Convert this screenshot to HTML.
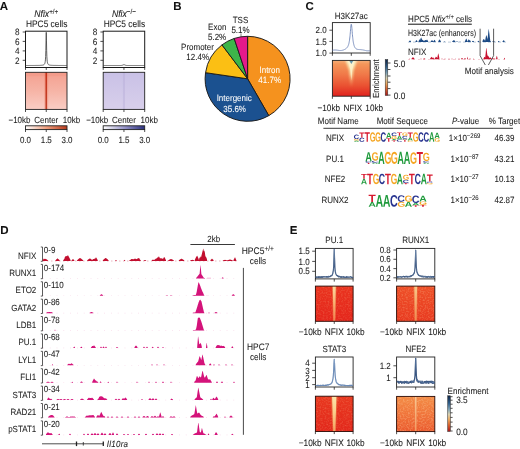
<!DOCTYPE html>
<html><head><meta charset="utf-8"><style>
html,body{margin:0;padding:0;background:#fff;}
svg{display:block;font-family:"Liberation Sans",sans-serif;filter:blur(0.35px);}
text{stroke:currentColor;stroke-width:0.06px;text-rendering:geometricPrecision;}
</style></head><body>
<svg width="520" height="449" viewBox="0 0 520 449">
<defs><linearGradient id="hA1" x1="0" y1="0" x2="0" y2="1"><stop offset="0" stop-color="#f4a090"/><stop offset="0.5" stop-color="#f6b4a6"/><stop offset="1" stop-color="#f9cdc4"/></linearGradient>
<linearGradient id="hA1c" x1="0" y1="0" x2="0" y2="1"><stop offset="0" stop-color="#c8321a"/><stop offset="1" stop-color="#c24028"/></linearGradient>
<linearGradient id="cbA1" x1="0" y1="0" x2="1" y2="0"><stop offset="0" stop-color="#ffffff"/><stop offset="0.5" stop-color="#f0a080"/><stop offset="1" stop-color="#b83a1c"/></linearGradient>
<linearGradient id="hA2" x1="0" y1="0" x2="0" y2="1"><stop offset="0" stop-color="#c9c1e6"/><stop offset="1" stop-color="#d8cfeb"/></linearGradient>
<linearGradient id="cbA2" x1="0" y1="0" x2="1" y2="0"><stop offset="0" stop-color="#ffffff"/><stop offset="0.5" stop-color="#9a98cc"/><stop offset="1" stop-color="#2a2f7e"/></linearGradient><linearGradient id="hC" x1="0" y1="0" x2="0" y2="1"><stop offset="0" stop-color="#f6b07a"/><stop offset="0.1" stop-color="#f4965a"/><stop offset="0.4" stop-color="#f07848"/><stop offset="0.7" stop-color="#ea5232"/><stop offset="1" stop-color="#e0221e"/></linearGradient>
<linearGradient id="hCv" x1="0" y1="0" x2="0" y2="1"><stop offset="0" stop-color="#fcf2c6"/><stop offset="0.5" stop-color="#fae2a6" stop-opacity="0.9"/><stop offset="1" stop-color="#f6c080" stop-opacity="0"/></linearGradient>
<filter id="blur1" x="-50%" y="-50%" width="200%" height="200%"><feGaussianBlur stdDeviation="1.2"/></filter>
<filter id="blur05" x="-50%" y="-50%" width="200%" height="200%"><feGaussianBlur stdDeviation="0.6"/></filter>
<filter id="blur03" x="-50%" y="-50%" width="200%" height="200%"><feGaussianBlur stdDeviation="0.35"/></filter>
<linearGradient id="cbC" x1="0" y1="0" x2="0" y2="1"><stop offset="0" stop-color="#0f2444"/><stop offset="0.2" stop-color="#2c5a86"/><stop offset="0.38" stop-color="#7fa2b4"/><stop offset="0.52" stop-color="#d8cfae"/><stop offset="0.66" stop-color="#e8a860"/><stop offset="0.82" stop-color="#d8602c"/><stop offset="1" stop-color="#a8161a"/></linearGradient><clipPath id="clipC"><rect x="332.4" y="60.4" width="37.80" height="35.80"/></clipPath><path id="gA" d="M1133 0 1008 360H471L346 0H51L565 1409H913L1425 0ZM739 1192 733 1170Q723 1134 709.0 1088.0Q695 1042 537 582H942L803 987L760 1123Z"/><path id="gC" d="M795 212Q1062 212 1166 480L1423 383Q1340 179 1179.5 79.5Q1019 -20 795 -20Q455 -20 269.5 172.5Q84 365 84 711Q84 1058 263.0 1244.0Q442 1430 782 1430Q1030 1430 1186.0 1330.5Q1342 1231 1405 1038L1145 967Q1112 1073 1015.5 1135.5Q919 1198 788 1198Q588 1198 484.5 1074.0Q381 950 381 711Q381 468 487.5 340.0Q594 212 795 212Z"/><path id="gG" d="M806 211Q921 211 1029.0 244.5Q1137 278 1196 330V525H852V743H1466V225Q1354 110 1174.5 45.0Q995 -20 798 -20Q454 -20 269.0 170.5Q84 361 84 711Q84 1059 270.0 1244.5Q456 1430 805 1430Q1301 1430 1436 1063L1164 981Q1120 1088 1026.0 1143.0Q932 1198 805 1198Q597 1198 489.0 1072.0Q381 946 381 711Q381 472 492.5 341.5Q604 211 806 211Z"/><path id="gT" d="M773 1181V0H478V1181H23V1409H1229V1181Z"/><filter id="noise" x="0" y="0" width="100%" height="100%"><feTurbulence type="fractalNoise" baseFrequency="0.6 0.7" numOctaves="2" seed="7" result="t"/><feColorMatrix in="t" type="matrix" values="0 0 0 0 0.98  0 0 0 0 0.62  0 0 0 0 0.35  0 0 0 2.2 -0.95" result="n"/><feComposite in="n" in2="SourceGraphic" operator="in"/></filter>
<linearGradient id="ePU" x1="0" y1="0" x2="0" y2="1"><stop offset="0" stop-color="#e9341f"/><stop offset="1" stop-color="#e4261c"/></linearGradient>
<linearGradient id="eRX" x1="0" y1="0" x2="0" y2="1"><stop offset="0" stop-color="#ee5028"/><stop offset="1" stop-color="#e83a20"/></linearGradient>
<linearGradient id="eST" x1="0" y1="0" x2="0" y2="1"><stop offset="0" stop-color="#e8381f"/><stop offset="1" stop-color="#e2281c"/></linearGradient>
<linearGradient id="eNF" x1="0" y1="0" x2="0" y2="1"><stop offset="0" stop-color="#f38c46"/><stop offset="0.5" stop-color="#f0753b"/><stop offset="1" stop-color="#ea5a2e"/></linearGradient>
<linearGradient id="sPU" x1="0" y1="0" x2="0" y2="1"><stop offset="0" stop-color="#fbd9a0"/><stop offset="0.5" stop-color="#f8b070"/><stop offset="1" stop-color="#f08050"/></linearGradient>
<linearGradient id="sRX" x1="0" y1="0" x2="0" y2="1"><stop offset="0" stop-color="#f9c888"/><stop offset="1" stop-color="#f08a50"/></linearGradient>
<linearGradient id="sST" x1="0" y1="0" x2="0" y2="1"><stop offset="0" stop-color="#fce6aa"/><stop offset="0.5" stop-color="#f9cc88"/><stop offset="1" stop-color="#f3a060"/></linearGradient>
<linearGradient id="sNF" x1="0" y1="0" x2="0" y2="1"><stop offset="0" stop-color="#f8c890"/><stop offset="1" stop-color="#f39a62"/></linearGradient>
<linearGradient id="cbE" x1="0" y1="0" x2="0" y2="1"><stop offset="0" stop-color="#0f2444"/><stop offset="0.2" stop-color="#2c5a86"/><stop offset="0.38" stop-color="#7fa2b4"/><stop offset="0.52" stop-color="#d8cfae"/><stop offset="0.66" stop-color="#e8a860"/><stop offset="0.82" stop-color="#d8602c"/><stop offset="1" stop-color="#a8161a"/></linearGradient><clipPath id="clip1"><rect x="315.4" y="286.1" width="37.70" height="35.20"/></clipPath><clipPath id="clip2"><rect x="396.6" y="286.1" width="38.20" height="35.20"/></clipPath><clipPath id="clip3"><rect x="315.4" y="396.2" width="37.70" height="35.30"/></clipPath><clipPath id="clip4"><rect x="396.6" y="396.4" width="38.20" height="35.20"/></clipPath></defs>
<rect width="520" height="449" fill="#fff"/>
<text transform="translate(-0.20,9.93) scale(1,1.0)" font-size="11.5" font-weight="bold" fill="#111" color="#111">A</text>
<text transform="translate(46.25,17.31) scale(1,1.12)" font-size="8.7" text-anchor="middle" fill="#1c1c1c" color="#1c1c1c"><tspan font-style="italic">Nfix</tspan><tspan font-size="6.3" dy="-3">+/+</tspan></text>
<text transform="translate(46.65,27.09) scale(1,1.12)" font-size="8.4" text-anchor="middle" fill="#1c1c1c" color="#1c1c1c">HPC5 cells</text>
<rect x="25.50" y="31.20" width="41.50" height="36.30" fill="#fff" stroke="#1a1a1a" stroke-width="1.0"/>
<line x1="22.70" y1="32.00" x2="25.50" y2="32.00" stroke="#222" stroke-width="0.8"/>
<text transform="translate(19.50,35.21) scale(1,1.12)" font-size="8.2" text-anchor="end" fill="#1c1c1c" color="#1c1c1c">8</text>
<line x1="22.70" y1="41.40" x2="25.50" y2="41.40" stroke="#222" stroke-width="0.8"/>
<text transform="translate(19.50,44.61) scale(1,1.12)" font-size="8.2" text-anchor="end" fill="#1c1c1c" color="#1c1c1c">6</text>
<line x1="22.70" y1="50.90" x2="25.50" y2="50.90" stroke="#222" stroke-width="0.8"/>
<text transform="translate(19.50,54.11) scale(1,1.12)" font-size="8.2" text-anchor="end" fill="#1c1c1c" color="#1c1c1c">4</text>
<line x1="22.70" y1="60.30" x2="25.50" y2="60.30" stroke="#222" stroke-width="0.8"/>
<text transform="translate(19.50,63.51) scale(1,1.12)" font-size="8.2" text-anchor="end" fill="#1c1c1c" color="#1c1c1c">2</text>
<line x1="25.50" y1="67.50" x2="25.50" y2="69.90" stroke="#222" stroke-width="0.8"/>
<line x1="46.25" y1="67.50" x2="46.25" y2="69.90" stroke="#222" stroke-width="0.8"/>
<line x1="67.00" y1="67.50" x2="67.00" y2="69.90" stroke="#222" stroke-width="0.8"/>
<polyline points="25.50,65.49 25.71,65.49 25.91,65.49 26.12,65.49 26.33,65.49 26.54,65.49 26.75,65.49 26.95,65.49 27.16,65.49 27.37,65.49 27.57,65.49 27.78,65.49 27.99,65.49 28.20,65.49 28.41,65.49 28.61,65.49 28.82,65.48 29.03,65.48 29.23,65.48 29.44,65.48 29.65,65.48 29.86,65.48 30.06,65.48 30.27,65.48 30.48,65.48 30.69,65.48 30.89,65.48 31.10,65.48 31.31,65.48 31.52,65.48 31.73,65.48 31.93,65.48 32.14,65.48 32.35,65.48 32.55,65.48 32.76,65.47 32.97,65.47 33.18,65.47 33.38,65.47 33.59,65.47 33.80,65.47 34.01,65.47 34.21,65.47 34.42,65.47 34.63,65.47 34.84,65.46 35.05,65.46 35.25,65.46 35.46,65.46 35.67,65.46 35.88,65.46 36.08,65.46 36.29,65.45 36.50,65.45 36.70,65.45 36.91,65.45 37.12,65.44 37.33,65.44 37.53,65.44 37.74,65.44 37.95,65.43 38.16,65.43 38.37,65.43 38.57,65.42 38.78,65.42 38.99,65.41 39.20,65.41 39.40,65.40 39.61,65.40 39.82,65.39 40.02,65.38 40.23,65.37 40.44,65.36 40.65,65.35 40.86,65.34 41.06,65.33 41.27,65.31 41.48,65.30 41.69,65.28 41.89,65.26 42.10,65.23 42.31,65.20 42.52,65.17 42.72,65.13 42.93,65.09 43.14,65.03 43.34,64.96 43.55,64.88 43.76,64.77 43.97,64.63 44.17,64.46 44.38,64.22 44.59,63.90 44.80,63.44 45.00,62.76 45.21,61.69 45.42,59.91 45.63,56.71 45.84,50.64 46.04,40.13 46.25,32.30 46.46,40.13 46.66,50.64 46.87,56.71 47.08,59.91 47.29,61.69 47.50,62.76 47.70,63.44 47.91,63.90 48.12,64.22 48.33,64.46 48.53,64.63 48.74,64.77 48.95,64.88 49.16,64.96 49.36,65.03 49.57,65.09 49.78,65.13 49.98,65.17 50.19,65.20 50.40,65.23 50.61,65.26 50.81,65.28 51.02,65.30 51.23,65.31 51.44,65.33 51.64,65.34 51.85,65.35 52.06,65.36 52.27,65.37 52.48,65.38 52.68,65.39 52.89,65.40 53.10,65.40 53.31,65.41 53.51,65.41 53.72,65.42 53.93,65.42 54.13,65.43 54.34,65.43 54.55,65.43 54.76,65.44 54.97,65.44 55.17,65.44 55.38,65.44 55.59,65.45 55.80,65.45 56.00,65.45 56.21,65.45 56.42,65.46 56.62,65.46 56.83,65.46 57.04,65.46 57.25,65.46 57.45,65.46 57.66,65.46 57.87,65.47 58.08,65.47 58.29,65.47 58.49,65.47 58.70,65.47 58.91,65.47 59.12,65.47 59.32,65.47 59.53,65.47 59.74,65.47 59.95,65.48 60.15,65.48 60.36,65.48 60.57,65.48 60.77,65.48 60.98,65.48 61.19,65.48 61.40,65.48 61.60,65.48 61.81,65.48 62.02,65.48 62.23,65.48 62.44,65.48 62.64,65.48 62.85,65.48 63.06,65.48 63.27,65.48 63.47,65.48 63.68,65.48 63.89,65.49 64.09,65.49 64.30,65.49 64.51,65.49 64.72,65.49 64.92,65.49 65.13,65.49 65.34,65.49 65.55,65.49 65.75,65.49 65.96,65.49 66.17,65.49 66.38,65.49 66.59,65.49 66.79,65.49 67.00,65.49" fill="none" stroke="#3a3a3a" stroke-width="0.8"/>
<rect x="25.50" y="72.30" width="41.50" height="37.10" fill="url(#hA1)"/><rect x="25.50" y="72.30" width="41.50" height="4" fill="#f28a76" opacity="0.25" filter="url(#blur05)"/><rect x="44.25" y="72.30" width="4" height="37.10" fill="#ec7a60" opacity="0.3"/><rect x="45.45" y="72.30" width="1.6" height="37.10" fill="url(#hA1c)"/>
<rect x="25.50" y="72.30" width="41.50" height="37.10" fill="none" stroke="#222" stroke-width="0.9"/>
<line x1="25.50" y1="109.40" x2="25.50" y2="112.00" stroke="#222" stroke-width="0.8"/>
<line x1="46.25" y1="109.40" x2="46.25" y2="112.00" stroke="#222" stroke-width="0.8"/>
<line x1="67.00" y1="109.40" x2="67.00" y2="112.00" stroke="#222" stroke-width="0.8"/>
<text transform="translate(19.50,122.74) scale(1,1.12)" font-size="8" text-anchor="middle" fill="#1c1c1c" color="#1c1c1c">−10kb</text>
<text transform="translate(46.25,122.74) scale(1,1.12)" font-size="8" text-anchor="middle" fill="#1c1c1c" color="#1c1c1c">Center</text>
<text transform="translate(71.50,122.74) scale(1,1.12)" font-size="8" text-anchor="middle" fill="#1c1c1c" color="#1c1c1c">10kb</text>
<rect x="25.50" y="125.80" width="41.50" height="3.80" fill="url(#cbA1)"/>
<rect x="25.50" y="125.80" width="41.50" height="3.80" fill="none" stroke="#222" stroke-width="0.9"/>
<line x1="25.50" y1="129.60" x2="25.50" y2="132.00" stroke="#222" stroke-width="0.8"/>
<line x1="46.25" y1="129.60" x2="46.25" y2="132.00" stroke="#222" stroke-width="0.8"/>
<line x1="67.00" y1="129.60" x2="67.00" y2="132.00" stroke="#222" stroke-width="0.8"/>
<text transform="translate(25.50,143.14) scale(1,1.12)" font-size="8" text-anchor="middle" fill="#1c1c1c" color="#1c1c1c">0.0</text>
<text transform="translate(46.25,143.14) scale(1,1.12)" font-size="8" text-anchor="middle" fill="#1c1c1c" color="#1c1c1c">1.5</text>
<text transform="translate(67.00,143.14) scale(1,1.12)" font-size="8" text-anchor="middle" fill="#1c1c1c" color="#1c1c1c">3.0</text>
<text transform="translate(123.95,17.31) scale(1,1.12)" font-size="8.7" text-anchor="middle" fill="#1c1c1c" color="#1c1c1c"><tspan font-style="italic">Nfix</tspan><tspan font-size="6.3" dy="-3">−/−</tspan></text>
<text transform="translate(124.35,27.09) scale(1,1.12)" font-size="8.4" text-anchor="middle" fill="#1c1c1c" color="#1c1c1c">HPC5 cells</text>
<rect x="103.20" y="31.20" width="41.50" height="36.30" fill="#fff" stroke="#1a1a1a" stroke-width="1.0"/>
<line x1="100.40" y1="32.00" x2="103.20" y2="32.00" stroke="#222" stroke-width="0.8"/>
<text transform="translate(97.20,35.21) scale(1,1.12)" font-size="8.2" text-anchor="end" fill="#1c1c1c" color="#1c1c1c">8</text>
<line x1="100.40" y1="41.40" x2="103.20" y2="41.40" stroke="#222" stroke-width="0.8"/>
<text transform="translate(97.20,44.61) scale(1,1.12)" font-size="8.2" text-anchor="end" fill="#1c1c1c" color="#1c1c1c">6</text>
<line x1="100.40" y1="50.90" x2="103.20" y2="50.90" stroke="#222" stroke-width="0.8"/>
<text transform="translate(97.20,54.11) scale(1,1.12)" font-size="8.2" text-anchor="end" fill="#1c1c1c" color="#1c1c1c">4</text>
<line x1="100.40" y1="60.30" x2="103.20" y2="60.30" stroke="#222" stroke-width="0.8"/>
<text transform="translate(97.20,63.51) scale(1,1.12)" font-size="8.2" text-anchor="end" fill="#1c1c1c" color="#1c1c1c">2</text>
<line x1="103.20" y1="67.50" x2="103.20" y2="69.90" stroke="#222" stroke-width="0.8"/>
<line x1="123.95" y1="67.50" x2="123.95" y2="69.90" stroke="#222" stroke-width="0.8"/>
<line x1="144.70" y1="67.50" x2="144.70" y2="69.90" stroke="#222" stroke-width="0.8"/>
<polyline points="103.20,65.50 103.41,65.50 103.62,65.50 103.82,65.50 104.03,65.50 104.24,65.50 104.45,65.50 104.65,65.50 104.86,65.50 105.07,65.50 105.28,65.50 105.48,65.50 105.69,65.50 105.90,65.50 106.11,65.50 106.31,65.50 106.52,65.50 106.73,65.50 106.94,65.50 107.14,65.50 107.35,65.50 107.56,65.50 107.77,65.50 107.97,65.50 108.18,65.50 108.39,65.50 108.59,65.50 108.80,65.50 109.01,65.50 109.22,65.50 109.42,65.50 109.63,65.50 109.84,65.50 110.05,65.50 110.26,65.50 110.46,65.50 110.67,65.50 110.88,65.50 111.09,65.50 111.29,65.50 111.50,65.50 111.71,65.50 111.92,65.50 112.12,65.50 112.33,65.50 112.54,65.50 112.75,65.50 112.95,65.50 113.16,65.50 113.37,65.50 113.58,65.50 113.78,65.50 113.99,65.50 114.20,65.50 114.41,65.50 114.61,65.50 114.82,65.50 115.03,65.50 115.23,65.50 115.44,65.50 115.65,65.50 115.86,65.50 116.06,65.50 116.27,65.50 116.48,65.50 116.69,65.50 116.90,65.50 117.10,65.50 117.31,65.50 117.52,65.50 117.72,65.50 117.93,65.50 118.14,65.50 118.35,65.50 118.56,65.50 118.76,65.50 118.97,65.50 119.18,65.50 119.39,65.50 119.59,65.50 119.80,65.50 120.01,65.50 120.22,65.50 120.42,65.50 120.63,65.50 120.84,65.49 121.05,65.49 121.25,65.47 121.46,65.46 121.67,65.43 121.88,65.40 122.08,65.35 122.29,65.28 122.50,65.21 122.70,65.12 122.91,65.02 123.12,64.92 123.33,64.83 123.53,64.76 123.74,64.72 123.95,64.70 124.16,64.72 124.37,64.76 124.57,64.83 124.78,64.92 124.99,65.02 125.20,65.12 125.40,65.21 125.61,65.28 125.82,65.35 126.03,65.40 126.23,65.43 126.44,65.46 126.65,65.47 126.86,65.49 127.06,65.49 127.27,65.50 127.48,65.50 127.69,65.50 127.89,65.50 128.10,65.50 128.31,65.50 128.51,65.50 128.72,65.50 128.93,65.50 129.14,65.50 129.34,65.50 129.55,65.50 129.76,65.50 129.97,65.50 130.18,65.50 130.38,65.50 130.59,65.50 130.80,65.50 131.00,65.50 131.21,65.50 131.42,65.50 131.63,65.50 131.84,65.50 132.04,65.50 132.25,65.50 132.46,65.50 132.66,65.50 132.87,65.50 133.08,65.50 133.29,65.50 133.50,65.50 133.70,65.50 133.91,65.50 134.12,65.50 134.32,65.50 134.53,65.50 134.74,65.50 134.95,65.50 135.16,65.50 135.36,65.50 135.57,65.50 135.78,65.50 135.99,65.50 136.19,65.50 136.40,65.50 136.61,65.50 136.81,65.50 137.02,65.50 137.23,65.50 137.44,65.50 137.65,65.50 137.85,65.50 138.06,65.50 138.27,65.50 138.47,65.50 138.68,65.50 138.89,65.50 139.10,65.50 139.31,65.50 139.51,65.50 139.72,65.50 139.93,65.50 140.13,65.50 140.34,65.50 140.55,65.50 140.76,65.50 140.97,65.50 141.17,65.50 141.38,65.50 141.59,65.50 141.80,65.50 142.00,65.50 142.21,65.50 142.42,65.50 142.62,65.50 142.83,65.50 143.04,65.50 143.25,65.50 143.45,65.50 143.66,65.50 143.87,65.50 144.08,65.50 144.28,65.50 144.49,65.50 144.70,65.50" fill="none" stroke="#3a3a3a" stroke-width="0.8"/>
<rect x="103.20" y="72.30" width="41.50" height="37.10" fill="url(#hA2)"/><rect x="122.95" y="72.30" width="2" height="37.10" fill="#b4aad8" opacity="0.4"/>
<rect x="103.20" y="72.30" width="41.50" height="37.10" fill="none" stroke="#222" stroke-width="0.9"/>
<line x1="103.20" y1="109.40" x2="103.20" y2="112.00" stroke="#222" stroke-width="0.8"/>
<line x1="123.95" y1="109.40" x2="123.95" y2="112.00" stroke="#222" stroke-width="0.8"/>
<line x1="144.70" y1="109.40" x2="144.70" y2="112.00" stroke="#222" stroke-width="0.8"/>
<text transform="translate(97.20,122.74) scale(1,1.12)" font-size="8" text-anchor="middle" fill="#1c1c1c" color="#1c1c1c">−10kb</text>
<text transform="translate(123.95,122.74) scale(1,1.12)" font-size="8" text-anchor="middle" fill="#1c1c1c" color="#1c1c1c">Center</text>
<text transform="translate(149.20,122.74) scale(1,1.12)" font-size="8" text-anchor="middle" fill="#1c1c1c" color="#1c1c1c">10kb</text>
<rect x="103.20" y="125.80" width="41.50" height="3.80" fill="url(#cbA2)"/>
<rect x="103.20" y="125.80" width="41.50" height="3.80" fill="none" stroke="#222" stroke-width="0.9"/>
<line x1="103.20" y1="129.60" x2="103.20" y2="132.00" stroke="#222" stroke-width="0.8"/>
<line x1="123.95" y1="129.60" x2="123.95" y2="132.00" stroke="#222" stroke-width="0.8"/>
<line x1="144.70" y1="129.60" x2="144.70" y2="132.00" stroke="#222" stroke-width="0.8"/>
<text transform="translate(103.20,143.14) scale(1,1.12)" font-size="8" text-anchor="middle" fill="#1c1c1c" color="#1c1c1c">0.0</text>
<text transform="translate(123.95,143.14) scale(1,1.12)" font-size="8" text-anchor="middle" fill="#1c1c1c" color="#1c1c1c">1.5</text>
<text transform="translate(144.70,143.14) scale(1,1.12)" font-size="8" text-anchor="middle" fill="#1c1c1c" color="#1c1c1c">3.0</text>
<text transform="translate(173.20,9.93) scale(1,1.0)" font-size="11.5" font-weight="bold" fill="#111" color="#111">B</text>
<path d="M247.6,78.8 L247.60,36.30 A42.5,42.5 0 0 1 268.77,115.65 Z" fill="#f5921e" stroke="#1a1a1a" stroke-width="0.95" stroke-linejoin="round"/>
<path d="M247.6,78.8 L268.77,115.65 A42.5,42.5 0 0 1 205.54,72.68 Z" fill="#1b5190" stroke="#1a1a1a" stroke-width="0.95" stroke-linejoin="round"/>
<path d="M247.6,78.8 L205.54,72.68 A42.5,42.5 0 0 1 221.98,44.89 Z" fill="#fbbf14" stroke="#1a1a1a" stroke-width="0.95" stroke-linejoin="round"/>
<path d="M247.6,78.8 L221.98,44.89 A42.5,42.5 0 0 1 234.21,38.46 Z" fill="#3db54a" stroke="#1a1a1a" stroke-width="0.95" stroke-linejoin="round"/>
<path d="M247.6,78.8 L234.21,38.46 A42.5,42.5 0 0 1 247.60,36.30 Z" fill="#e5198b" stroke="#1a1a1a" stroke-width="0.95" stroke-linejoin="round"/>
<text transform="translate(269.70,73.24) scale(1,1.12)" font-size="8" text-anchor="middle" fill="#fff" color="#fff">Intron</text>
<text transform="translate(269.70,82.64) scale(1,1.12)" font-size="8" text-anchor="middle" fill="#fff" color="#fff">41.7%</text>
<text transform="translate(234.20,101.14) scale(1,1.12)" font-size="8" text-anchor="middle" fill="#fff" color="#fff">Intergenic</text>
<text transform="translate(234.60,111.64) scale(1,1.12)" font-size="8" text-anchor="middle" fill="#fff" color="#fff">35.6%</text>
<text transform="translate(197.50,49.84) scale(1,1.12)" font-size="8" text-anchor="middle" fill="#1c1c1c" color="#1c1c1c">Promoter</text>
<text transform="translate(197.70,59.54) scale(1,1.12)" font-size="8" text-anchor="middle" fill="#1c1c1c" color="#1c1c1c">12.4%</text>
<text transform="translate(217.20,30.14) scale(1,1.12)" font-size="8" text-anchor="middle" fill="#1c1c1c" color="#1c1c1c">Exon</text>
<text transform="translate(217.10,39.94) scale(1,1.12)" font-size="8" text-anchor="middle" fill="#1c1c1c" color="#1c1c1c">5.2%</text>
<text transform="translate(240.50,22.64) scale(1,1.12)" font-size="8" text-anchor="middle" fill="#1c1c1c" color="#1c1c1c">TSS</text>
<text transform="translate(240.50,32.54) scale(1,1.12)" font-size="8" text-anchor="middle" fill="#1c1c1c" color="#1c1c1c">5.1%</text>
<line x1="241.00" y1="33.40" x2="241.00" y2="36.80" stroke="#333" stroke-width="0.6"/>
<text transform="translate(305.60,9.97) scale(1,1.0)" font-size="11.5" font-weight="bold" fill="#111" color="#111">C</text>
<text transform="translate(351.30,18.54) scale(1,1.12)" font-size="8" text-anchor="middle" fill="#1c1c1c" color="#1c1c1c">H3K27ac</text>
<rect x="332.40" y="22.60" width="37.80" height="30.40" fill="#fff" stroke="#222" stroke-width="0.9"/>
<line x1="329.40" y1="30.20" x2="332.40" y2="30.20" stroke="#222" stroke-width="0.8"/>
<text transform="translate(326.60,33.34) scale(1,1.12)" font-size="8" text-anchor="end" fill="#1c1c1c" color="#1c1c1c">2.0</text>
<line x1="329.40" y1="41.40" x2="332.40" y2="41.40" stroke="#222" stroke-width="0.8"/>
<text transform="translate(326.60,44.54) scale(1,1.12)" font-size="8" text-anchor="end" fill="#1c1c1c" color="#1c1c1c">1.5</text>
<line x1="329.40" y1="53.10" x2="332.40" y2="53.10" stroke="#222" stroke-width="0.8"/>
<text transform="translate(326.60,56.24) scale(1,1.12)" font-size="8" text-anchor="end" fill="#1c1c1c" color="#1c1c1c">1.0</text>
<line x1="332.40" y1="53.00" x2="332.40" y2="55.80" stroke="#222" stroke-width="0.8"/>
<line x1="351.30" y1="53.00" x2="351.30" y2="55.80" stroke="#222" stroke-width="0.8"/>
<line x1="370.20" y1="53.00" x2="370.20" y2="55.80" stroke="#222" stroke-width="0.8"/>
<polyline points="332.40,50.29 332.53,50.26 332.65,50.24 332.78,50.22 332.90,50.20 333.03,50.18 333.16,50.16 333.28,50.14 333.41,50.12 333.53,50.10 333.66,50.09 333.79,50.07 333.91,50.06 334.04,50.05 334.16,50.04 334.29,50.03 334.42,50.02 334.54,50.02 334.67,50.01 334.79,50.01 334.92,50.00 335.05,50.00 335.17,50.00 335.30,50.01 335.42,50.01 335.55,50.01 335.68,50.02 335.80,50.03 335.93,50.03 336.05,50.04 336.18,50.05 336.31,50.06 336.43,50.08 336.56,50.09 336.68,50.10 336.81,50.12 336.94,50.13 337.06,50.15 337.19,50.17 337.31,50.18 337.44,50.20 337.57,50.22 337.69,50.24 337.82,50.26 337.94,50.28 338.07,50.29 338.20,50.31 338.32,50.33 338.45,50.35 338.57,50.37 338.70,50.38 338.83,50.40 338.95,50.41 339.08,50.43 339.20,50.44 339.33,50.46 339.46,50.47 339.58,50.48 339.71,50.49 339.83,50.50 339.96,50.50 340.09,50.51 340.21,50.51 340.34,50.52 340.46,50.52 340.59,50.52 340.72,50.51 340.84,50.51 340.97,50.50 341.09,50.50 341.22,50.49 341.35,50.48 341.47,50.46 341.60,50.45 341.72,50.43 341.85,50.41 341.98,50.39 342.10,50.37 342.23,50.34 342.35,50.31 342.48,50.28 342.61,50.25 342.73,50.22 342.86,50.18 342.98,50.15 343.11,50.11 343.24,50.07 343.36,50.02 343.49,49.98 343.61,49.93 343.74,49.88 343.87,49.83 343.99,49.78 344.12,49.72 344.24,49.66 344.37,49.60 344.50,49.54 344.62,49.48 344.75,49.41 344.87,49.34 345.00,49.27 345.13,49.20 345.25,49.12 345.38,49.04 345.50,48.96 345.63,48.88 345.76,48.79 345.88,48.70 346.01,48.60 346.13,48.50 346.26,48.39 346.39,48.28 346.51,48.17 346.64,48.05 346.76,47.92 346.89,47.78 347.02,47.64 347.14,47.48 347.27,47.32 347.39,47.14 347.52,46.96 347.65,46.75 347.77,46.53 347.90,46.30 348.02,46.04 348.15,45.76 348.28,45.45 348.40,45.11 348.53,44.74 348.65,44.33 348.78,43.88 348.91,43.38 349.03,42.83 349.16,42.22 349.28,41.54 349.41,40.78 349.54,39.94 349.66,39.01 349.79,37.99 349.91,36.86 350.04,35.63 350.17,34.30 350.29,32.88 350.42,31.41 350.54,29.91 350.67,28.44 350.80,27.07 350.92,25.88 351.05,24.96 351.17,24.38 351.30,24.20 351.43,24.43 351.55,25.06 351.68,26.02 351.80,27.26 351.93,28.67 352.06,30.19 352.18,31.73 352.31,33.25 352.43,34.71 352.56,36.08 352.69,37.35 352.81,38.51 352.94,39.58 353.06,40.54 353.19,41.41 353.32,42.19 353.44,42.90 353.57,43.54 353.69,44.11 353.82,44.63 353.95,45.09 354.07,45.52 354.20,45.90 354.32,46.24 354.45,46.55 354.58,46.84 354.70,47.09 354.83,47.33 354.95,47.54 355.08,47.73 355.21,47.91 355.33,48.07 355.46,48.22 355.58,48.35 355.71,48.47 355.84,48.58 355.96,48.68 356.09,48.78 356.21,48.86 356.34,48.93 356.47,49.00 356.59,49.07 356.72,49.12 356.84,49.17 356.97,49.22 357.10,49.26 357.22,49.30 357.35,49.33 357.47,49.36 357.60,49.38 357.73,49.41 357.85,49.43 357.98,49.45 358.10,49.46 358.23,49.48 358.36,49.49 358.48,49.50 358.61,49.51 358.73,49.52 358.86,49.53 358.99,49.53 359.11,49.54 359.24,49.55 359.36,49.55 359.49,49.56 359.62,49.56 359.74,49.57 359.87,49.57 359.99,49.58 360.12,49.59 360.25,49.59 360.37,49.60 360.50,49.61 360.62,49.62 360.75,49.63 360.88,49.64 361.00,49.65 361.13,49.66 361.25,49.68 361.38,49.69 361.51,49.70 361.63,49.72 361.76,49.74 361.88,49.76 362.01,49.78 362.14,49.80 362.26,49.82 362.39,49.84 362.51,49.86 362.64,49.88 362.77,49.91 362.89,49.93 363.02,49.96 363.14,49.99 363.27,50.01 363.40,50.04 363.52,50.07 363.65,50.10 363.77,50.13 363.90,50.16 364.03,50.19 364.15,50.22 364.28,50.25 364.40,50.28 364.53,50.31 364.66,50.34 364.78,50.37 364.91,50.39 365.03,50.42 365.16,50.45 365.29,50.48 365.41,50.51 365.54,50.53 365.66,50.56 365.79,50.58 365.92,50.60 366.04,50.63 366.17,50.65 366.29,50.67 366.42,50.69 366.55,50.71 366.67,50.72 366.80,50.74 366.92,50.75 367.05,50.76 367.18,50.77 367.30,50.78 367.43,50.79 367.55,50.80 367.68,50.80 367.81,50.81 367.93,50.81 368.06,50.81 368.18,50.81 368.31,50.81 368.44,50.80 368.56,50.80 368.69,50.79 368.81,50.78 368.94,50.77 369.07,50.76 369.19,50.75 369.32,50.74 369.44,50.72 369.57,50.71 369.70,50.69 369.82,50.67 369.95,50.66 370.07,50.64 370.20,50.62" fill="none" stroke="#6f86b8" stroke-width="0.9"/>
<rect x="332.40" y="60.40" width="37.80" height="35.80" fill="url(#hC)" stroke="none" stroke-width="0.8"/>
<g clip-path="url(#clipC)"><path d="M345.30,59.4 L357.30,59.4 L353.50,70.4 L352.10,87.4 L350.50,87.4 L349.10,70.4 Z" fill="url(#hCv)" filter="url(#blur1)"/><path d="M347.80,60.4 L354.80,60.4 L352.30,69.4 L351.30,80.4 L350.30,69.4 Z" fill="#fdf4cc" opacity="0.85" filter="url(#blur05)"/><path d="M349.10,60.4 L353.50,60.4 L351.30,63.9 Z" fill="#4f8aa8" opacity="0.85" filter="url(#blur03)"/></g>
<rect x="332.40" y="60.40" width="37.80" height="35.80" fill="none" stroke="#222" stroke-width="0.9"/>
<line x1="332.40" y1="96.20" x2="332.40" y2="98.80" stroke="#222" stroke-width="0.8"/>
<line x1="351.30" y1="96.20" x2="351.30" y2="98.80" stroke="#222" stroke-width="0.8"/>
<line x1="370.20" y1="96.20" x2="370.20" y2="98.80" stroke="#222" stroke-width="0.8"/>
<text transform="translate(328.80,110.61) scale(1,1.12)" font-size="8.2" text-anchor="middle" fill="#1c1c1c" color="#1c1c1c">−10kb</text>
<text transform="translate(352.90,110.61) scale(1,1.12)" font-size="8.2" text-anchor="middle" fill="#1c1c1c" color="#1c1c1c">NFIX</text>
<text transform="translate(374.20,110.61) scale(1,1.12)" font-size="8.2" text-anchor="middle" fill="#1c1c1c" color="#1c1c1c">10kb</text>
<text x="0.00" y="2.88" font-size="8" text-anchor="middle" fill="#1c1c1c" color="#1c1c1c" transform="translate(378.6,78.60) rotate(-90) scale(0.95,1.1) translate(0,-2.9)">Enrichment</text>
<rect x="385.20" y="59.60" width="2.60" height="35.90" fill="url(#cbC)" stroke="#2a2a2a" stroke-width="0.5"/>
<line x1="387.80" y1="63.00" x2="390.50" y2="63.00" stroke="#1a1a1a" stroke-width="0.8"/>
<line x1="387.80" y1="69.50" x2="390.50" y2="69.50" stroke="#1a1a1a" stroke-width="0.8"/>
<line x1="387.80" y1="76.00" x2="390.50" y2="76.00" stroke="#1a1a1a" stroke-width="0.8"/>
<line x1="387.80" y1="82.20" x2="390.50" y2="82.20" stroke="#1a1a1a" stroke-width="0.8"/>
<line x1="387.80" y1="88.60" x2="390.50" y2="88.60" stroke="#1a1a1a" stroke-width="0.8"/>
<line x1="387.80" y1="95.10" x2="390.50" y2="95.10" stroke="#1a1a1a" stroke-width="0.8"/>
<text transform="translate(393.80,66.75) scale(1,1.12)" font-size="8.3" fill="#1c1c1c" color="#1c1c1c">5.0</text>
<text transform="translate(393.80,98.75) scale(1,1.12)" font-size="8.3" fill="#1c1c1c" color="#1c1c1c">0.0</text>
<text transform="translate(408.10,22.14) scale(1,1.12)" font-size="8" fill="#1c1c1c" color="#1c1c1c">HPC5 <tspan font-style="italic">Nfix</tspan><tspan font-size="5.8" dy="-2.6">+/+</tspan><tspan dy="2.6"> cells</tspan></text>
<line x1="408.00" y1="24.20" x2="471.80" y2="24.20" stroke="#111" stroke-width="1.0"/>
<text transform="translate(408.00,36.14) scale(1,1.12)" font-size="8" fill="#1c1c1c" color="#1c1c1c" textLength="68" lengthAdjust="spacingAndGlyphs">H3K27ac (enhancers)</text>
<path d="M408.90,42.10 L408.90,41.78 L409.10,41.42 L409.30,41.12 L409.50,40.87 L409.70,40.63 L409.90,40.41 L410.10,40.41 L410.30,40.63 L410.50,40.87 L410.70,41.12 L410.90,41.42 L411.10,41.78 L411.10,42.10 Z M415.50,42.10 L415.50,41.47 L415.70,41.08 L415.90,40.75 L416.10,40.44 L416.30,40.16 L416.50,39.90 L416.70,40.16 L416.90,40.44 L417.10,40.75 L417.30,41.08 L417.50,41.47 L417.50,42.10 Z M418.50,42.10 L418.50,41.67 L418.70,41.01 L418.90,40.58 L419.10,40.21 L419.30,39.87 L419.50,39.56 L419.70,39.58 L419.90,39.62 L420.10,39.67 L420.30,39.42 L420.50,38.87 L420.70,38.35 L420.90,37.88 L421.10,37.46 L421.30,37.50 L421.50,38.13 L421.70,38.76 L421.90,39.13 L422.10,39.46 L422.30,39.86 L422.50,40.03 L422.70,39.97 L422.90,39.92 L423.10,40.09 L423.30,40.48 L423.50,41.07 L423.70,40.73 L423.90,40.69 L424.10,40.77 L424.30,40.83 L424.50,40.65 L424.70,40.48 L424.90,40.32 L425.10,40.18 L425.30,40.03 L425.50,39.90 L425.70,40.08 L425.90,40.27 L426.10,40.48 L426.30,40.21 L426.50,39.89 L426.70,39.72 L426.90,39.72 L427.10,39.78 L427.30,39.78 L427.50,40.15 L427.70,40.56 L427.90,41.02 L428.10,41.60 L428.10,42.10 Z M430.70,42.10 L430.70,41.50 L430.90,41.20 L431.10,40.95 L431.30,40.73 L431.50,40.53 L431.70,40.35 L431.90,40.18 L432.10,40.18 L432.30,40.35 L432.50,40.53 L432.70,40.73 L432.90,40.95 L433.10,41.20 L433.30,41.50 L433.50,41.32 L433.70,40.91 L433.90,40.58 L434.10,40.30 L434.30,40.04 L434.50,39.80 L434.70,40.04 L434.90,40.30 L435.10,40.58 L435.30,40.91 L435.50,41.32 L435.50,42.10 Z M438.30,42.10 L438.30,41.52 L438.50,40.98 L438.70,40.58 L438.90,40.24 L439.10,39.93 L439.30,39.66 L439.50,39.40 L439.70,39.62 L439.90,39.86 L440.10,40.11 L440.30,40.39 L440.50,40.70 L440.70,41.07 L440.90,41.57 L440.90,42.10 Z M444.10,42.10 L444.10,41.71 L444.30,41.46 L444.50,41.20 L444.70,41.46 L444.90,41.71 L444.90,42.10 Z M452.10,42.10 L452.10,41.75 L452.30,41.43 L452.50,41.19 L452.70,40.98 L452.90,40.80 L453.10,40.63 L453.30,40.48 L453.50,40.33 L453.70,40.20 L453.90,40.06 L454.10,40.09 L454.30,40.26 L454.50,40.45 L454.70,40.66 L454.90,40.89 L455.10,41.15 L455.30,41.47 L455.30,42.10 Z M456.50,42.10 L456.50,41.61 L456.70,41.29 L456.90,40.96 L457.10,40.96 L457.30,41.29 L457.50,41.61 L457.50,42.10 Z M459.70,42.10 L459.70,41.64 L459.90,41.41 L460.10,41.41 L460.30,41.64 L460.30,42.10 Z M464.90,42.10 L464.90,41.56 L465.10,40.93 L465.30,40.43 L465.50,39.99 L465.70,39.58 L465.90,39.20 L466.10,38.84 L466.30,38.50 L466.50,38.90 L466.70,39.32 L466.90,39.77 L467.10,40.26 L467.30,40.81 L467.50,41.50 L467.70,41.57 L467.90,40.96 L468.10,40.47 L468.30,40.04 L468.50,39.65 L468.70,39.28 L468.90,39.28 L469.10,39.65 L469.30,40.04 L469.50,40.25 L469.70,40.29 L469.90,40.45 L470.10,40.52 L470.30,40.53 L470.50,40.98 L470.70,41.43 L470.70,42.10 Z M471.90,42.10 L471.90,41.78 L472.10,41.49 L472.30,41.27 L472.50,41.09 L472.70,40.92 L472.90,40.77 L473.10,40.77 L473.30,40.92 L473.50,41.09 L473.70,41.27 L473.90,41.49 L474.10,41.78 L474.10,42.10 Z M477.50,42.10 L477.50,41.75 L477.70,41.42 L477.90,41.18 L478.10,40.97 L478.30,40.79 L478.50,40.79 L478.70,40.97 L478.90,41.18 L479.10,41.42 L479.30,41.75 L479.30,42.10 Z M482.50,42.10 L482.50,41.11 L482.70,40.61 L482.90,40.20 L483.10,39.84 L483.30,39.51 L483.50,39.21 L483.70,38.93 L483.90,38.93 L484.10,39.21 L484.30,39.51 L484.50,39.84 L484.70,40.20 L484.90,40.61 L485.10,40.66 L485.30,39.74 L485.50,38.53 L485.70,37.51 L485.90,36.59 L486.10,35.75 L486.30,34.95 L486.50,35.49 L486.70,36.08 L486.90,36.72 L487.10,37.46 L487.30,38.34 L487.50,39.82 L487.70,37.81 L487.90,35.81 L488.10,33.89 L488.30,32.06 L488.50,30.23 L488.70,28.41 L488.90,29.95 L489.10,31.49 L489.30,33.03 L489.50,34.58 L489.70,36.14 L489.90,37.71 L490.10,39.29 L490.30,40.89 L490.50,41.08 L490.70,41.31 L490.90,41.64 L490.90,42.10 Z M492.50,42.10 L492.50,41.55 L492.70,41.27 L492.90,41.04 L493.10,40.85 L493.30,40.67 L493.50,40.50 L493.70,40.67 L493.90,40.85 L494.10,41.04 L494.30,41.27 L494.50,41.55 L494.50,42.10 Z M497.90,42.10 L497.90,41.64 L498.10,41.41 L498.30,41.22 L498.50,41.05 L498.70,40.90 L498.90,41.05 L499.10,41.22 L499.30,41.41 L499.50,41.64 L499.50,42.10 Z M502.50,42.10 L502.50,41.50 L502.70,41.20 L502.90,40.95 L503.10,40.73 L503.30,40.53 L503.50,40.35 L503.70,40.18 L503.90,40.22 L504.10,40.49 L504.30,40.78 L504.50,41.13 L504.70,41.60 L504.70,42.10 Z " fill="#1d4a85"/>
<line x1="408" y1="42.1" x2="506" y2="42.1" stroke="#1d4a85" stroke-width="0.5" stroke-dasharray="3 2" opacity="0.6"/>
<text transform="translate(408.00,55.04) scale(1,1.12)" font-size="8" fill="#1c1c1c" color="#1c1c1c">NFIX</text>
<path d="M409.50,59.30 L409.50,58.85 L409.70,58.55 L409.90,58.55 L410.10,58.85 L410.10,59.30 Z M411.50,59.30 L411.50,58.72 L411.70,58.42 L411.90,58.18 L412.10,57.96 L412.30,57.77 L412.50,57.60 L412.70,57.43 L412.90,57.28 L413.10,57.28 L413.30,57.43 L413.50,57.60 L413.70,57.77 L413.90,57.96 L414.10,58.18 L414.30,58.42 L414.50,58.72 L414.50,59.30 Z M420.50,59.30 L420.50,58.96 L420.70,58.74 L420.90,58.51 L421.10,58.51 L421.30,58.74 L421.50,58.96 L421.50,59.30 Z M423.30,59.30 L423.30,58.82 L423.50,58.68 L423.70,58.57 L423.90,58.47 L424.10,58.38 L424.30,58.30 L424.50,58.38 L424.70,58.47 L424.90,58.57 L425.10,58.68 L425.30,58.82 L425.30,59.30 Z M430.10,59.30 L430.10,58.81 L430.30,58.35 L430.50,58.01 L430.70,57.72 L430.90,57.46 L431.10,57.22 L431.30,57.01 L431.50,56.80 L431.70,57.06 L431.90,57.34 L432.10,57.65 L432.30,57.55 L432.50,57.57 L432.70,58.11 L432.90,57.85 L433.10,57.61 L433.30,57.61 L433.50,57.85 L433.70,58.11 L433.90,58.43 L434.10,58.85 L434.10,59.30 Z M434.50,59.30 L434.50,58.87 L434.70,58.47 L434.90,58.17 L435.10,57.92 L435.30,57.70 L435.50,57.49 L435.70,56.83 L435.90,56.82 L436.10,56.87 L436.30,56.97 L436.50,57.11 L436.70,57.31 L436.90,57.62 L437.10,57.96 L437.30,57.88 L437.50,56.63 L437.70,55.69 L437.90,54.80 L438.10,53.95 L438.30,53.14 L438.50,54.00 L438.70,54.88 L438.90,55.80 L439.10,56.77 L439.30,57.83 L439.30,59.30 Z M441.50,59.30 L441.50,58.85 L441.70,58.67 L441.90,58.49 L442.10,58.49 L442.30,58.67 L442.50,58.85 L442.50,59.30 Z M444.50,59.30 L444.50,59.00 L444.70,58.80 L444.90,58.60 L445.10,58.60 L445.30,58.80 L445.50,59.00 L445.50,59.30 Z M448.50,59.30 L448.50,59.00 L448.70,58.80 L448.90,58.60 L449.10,58.60 L449.30,58.80 L449.50,59.00 L449.50,59.30 Z M451.50,59.30 L451.50,59.00 L451.70,58.80 L451.90,58.60 L452.10,58.60 L452.30,58.80 L452.50,59.00 L452.50,59.30 Z M455.10,59.30 L455.10,58.90 L455.30,58.70 L455.50,58.50 L455.70,58.70 L455.90,58.90 L455.90,59.30 Z M458.50,59.30 L458.50,58.85 L458.70,58.67 L458.90,58.49 L459.10,58.49 L459.30,58.67 L459.50,58.85 L459.50,59.30 Z M461.10,59.30 L461.10,58.73 L461.30,58.53 L461.50,58.36 L461.70,58.21 L461.90,58.07 L462.10,58.07 L462.30,58.21 L462.50,58.36 L462.70,58.53 L462.90,58.73 L462.90,59.30 Z M464.10,59.30 L464.10,58.78 L464.30,58.59 L464.50,58.43 L464.70,58.29 L464.90,58.16 L465.10,58.16 L465.30,58.29 L465.50,58.43 L465.70,58.59 L465.90,58.78 L465.90,59.30 Z M467.10,59.30 L467.10,58.37 L467.30,57.43 L467.50,56.50 L467.70,57.43 L467.90,58.37 L467.90,59.30 Z M469.30,59.30 L469.30,59.00 L469.50,58.80 L469.70,58.60 L469.90,58.40 L470.10,58.40 L470.30,58.60 L470.50,58.80 L470.70,59.00 L470.70,59.30 Z M473.10,59.30 L473.10,58.90 L473.30,58.70 L473.50,58.50 L473.70,58.70 L473.90,58.90 L473.90,59.30 Z M483.50,59.30 L483.50,58.45 L483.70,58.01 L483.90,57.65 L484.10,57.34 L484.30,57.06 L484.50,56.80 L484.70,57.06 L484.90,57.34 L485.10,57.65 L485.30,56.78 L485.50,54.76 L485.70,53.15 L485.90,50.69 L486.10,48.23 L486.30,47.95 L486.50,48.86 L486.70,50.15 L486.90,51.52 L487.10,52.94 L487.30,54.40 L487.50,55.88 L487.70,55.49 L487.90,55.44 L488.10,55.73 L488.30,56.03 L488.50,56.34 L488.70,56.67 L488.90,57.01 L489.10,57.38 L489.30,57.78 L489.50,57.56 L489.70,57.77 L489.90,57.98 L490.10,57.73 L490.30,57.51 L490.50,57.30 L490.70,57.51 L490.90,57.73 L491.10,57.98 L491.30,58.27 L491.50,58.62 L491.50,59.30 Z M491.90,59.30 L491.90,58.92 L492.10,58.57 L492.30,58.31 L492.50,58.09 L492.70,57.89 L492.90,57.89 L493.10,58.09 L493.30,58.31 L493.50,58.57 L493.70,58.92 L493.70,59.30 Z M494.30,59.30 L494.30,58.85 L494.50,58.55 L494.70,58.25 L494.90,58.25 L495.10,58.55 L495.30,58.85 L495.30,59.30 Z M496.10,59.30 L496.10,58.58 L496.30,57.57 L496.50,56.69 L496.70,55.89 L496.90,55.84 L497.10,56.55 L497.30,57.31 L497.50,58.16 L497.50,59.30 Z M503.90,59.30 L503.90,58.90 L504.10,58.50 L504.30,58.10 L504.50,57.70 L504.70,58.10 L504.90,58.50 L505.10,58.90 L505.10,59.30 Z " fill="#c8102e"/>
<line x1="408" y1="59.3" x2="506" y2="59.3" stroke="#c8102e" stroke-width="0.5" stroke-dasharray="2 3" opacity="0.5"/>
<polyline points="480.1,28.7 480.1,55.7 485.3,65" fill="none" stroke="#4a4a4a" stroke-width="0.9"/>
<polyline points="493.6,28.7 493.6,55.7 488.4,65" fill="none" stroke="#4a4a4a" stroke-width="0.9"/>
<text transform="translate(464.80,73.58) scale(1,1.12)" font-size="8.1" fill="#1c1c1c" color="#1c1c1c">Motif analysis</text>
<text transform="translate(317.80,124.44) scale(1,1.12)" font-size="8" fill="#1c1c1c" color="#1c1c1c">Motif Name</text>
<text transform="translate(376.70,124.44) scale(1,1.12)" font-size="8" fill="#1c1c1c" color="#1c1c1c">Motif Sequece</text>
<text transform="translate(452.00,124.44) scale(1,1.12)" font-size="8" fill="#1c1c1c" color="#1c1c1c"><tspan font-style="italic">P</tspan>-value</text>
<text transform="translate(488.80,124.44) scale(1,1.12)" font-size="8" fill="#1c1c1c" color="#1c1c1c">% Target</text>
<line x1="323.40" y1="128.30" x2="513.00" y2="128.30" stroke="#222" stroke-width="0.9"/>
<text transform="translate(335.00,141.44) scale(1,1.12)" font-size="8" text-anchor="middle" fill="#1c1c1c" color="#1c1c1c">NFIX</text>
<text transform="translate(464.60,141.44) scale(1,1.12)" font-size="8" text-anchor="middle" fill="#1c1c1c" color="#1c1c1c">1×10<tspan font-size="6" dy="-3">−269</tspan></text>
<text transform="translate(504.50,141.44) scale(1,1.12)" font-size="8" text-anchor="middle" fill="#1c1c1c" color="#1c1c1c">46.39</text>
<text transform="translate(335.00,162.14) scale(1,1.12)" font-size="8" text-anchor="middle" fill="#1c1c1c" color="#1c1c1c">PU.1</text>
<text transform="translate(464.60,162.14) scale(1,1.12)" font-size="8" text-anchor="middle" fill="#1c1c1c" color="#1c1c1c">1×10<tspan font-size="6" dy="-3">−87</tspan></text>
<text transform="translate(504.50,162.14) scale(1,1.12)" font-size="8" text-anchor="middle" fill="#1c1c1c" color="#1c1c1c">43.21</text>
<text transform="translate(335.00,182.44) scale(1,1.12)" font-size="8" text-anchor="middle" fill="#1c1c1c" color="#1c1c1c">NFE2</text>
<text transform="translate(464.60,182.44) scale(1,1.12)" font-size="8" text-anchor="middle" fill="#1c1c1c" color="#1c1c1c">1×10<tspan font-size="6" dy="-3">−27</tspan></text>
<text transform="translate(504.50,182.44) scale(1,1.12)" font-size="8" text-anchor="middle" fill="#1c1c1c" color="#1c1c1c">10.13</text>
<text transform="translate(335.00,203.44) scale(1,1.12)" font-size="8" text-anchor="middle" fill="#1c1c1c" color="#1c1c1c">RUNX2</text>
<text transform="translate(464.60,203.44) scale(1,1.12)" font-size="8" text-anchor="middle" fill="#1c1c1c" color="#1c1c1c">1×10<tspan font-size="6" dy="-3">−26</tspan></text>
<text transform="translate(504.50,203.44) scale(1,1.12)" font-size="8" text-anchor="middle" fill="#1c1c1c" color="#1c1c1c">42.87</text>
<use href="#gA" fill="#1f9a3c" transform="translate(353.735,141.800) scale(0.00373,-0.00085)"/>
<use href="#gG" fill="#f5a623" transform="translate(353.613,140.579) scale(0.00371,-0.00103)"/>
<use href="#gC" fill="#27338f" transform="translate(353.603,139.038) scale(0.00383,-0.00310)"/>
<use href="#gC" fill="#27338f" transform="translate(358.978,141.742) scale(0.00383,-0.00290)"/>
<use href="#gT" fill="#d7192f" transform="translate(359.202,137.600) scale(0.00425,-0.00355)"/>
<use href="#gT" fill="#d7192f" transform="translate(364.577,141.800) scale(0.00425,-0.00674)"/>
<use href="#gG" fill="#f5a623" transform="translate(369.738,141.669) scale(0.00371,-0.00655)"/>
<use href="#gG" fill="#f5a623" transform="translate(375.113,141.669) scale(0.00371,-0.00655)"/>
<use href="#gC" fill="#27338f" transform="translate(380.478,141.669) scale(0.00383,-0.00655)"/>
<use href="#gT" fill="#d7192f" transform="translate(386.077,141.800) scale(0.00425,-0.00248)"/>
<use href="#gA" fill="#1f9a3c" transform="translate(385.985,138.300) scale(0.00373,-0.00390)"/>
<use href="#gT" fill="#d7192f" transform="translate(391.452,141.800) scale(0.00425,-0.00106)"/>
<use href="#gA" fill="#1f9a3c" transform="translate(391.360,140.300) scale(0.00373,-0.00085)"/>
<use href="#gG" fill="#f5a623" transform="translate(391.238,139.059) scale(0.00371,-0.00207)"/>
<use href="#gC" fill="#27338f" transform="translate(391.228,136.052) scale(0.00383,-0.00241)"/>
<use href="#gC" fill="#27338f" transform="translate(396.603,141.766) scale(0.00383,-0.00172)"/>
<use href="#gA" fill="#1f9a3c" transform="translate(396.735,139.300) scale(0.00373,-0.00248)"/>
<use href="#gT" fill="#d7192f" transform="translate(396.827,135.800) scale(0.00425,-0.00234)"/>
<use href="#gT" fill="#d7192f" transform="translate(402.202,141.800) scale(0.00425,-0.00142)"/>
<use href="#gA" fill="#1f9a3c" transform="translate(402.110,139.800) scale(0.00373,-0.00071)"/>
<use href="#gC" fill="#27338f" transform="translate(401.978,138.761) scale(0.00383,-0.00193)"/>
<use href="#gG" fill="#f5a623" transform="translate(401.988,135.952) scale(0.00371,-0.00241)"/>
<use href="#gG" fill="#f5a623" transform="translate(407.363,141.783) scale(0.00371,-0.00083)"/>
<use href="#gA" fill="#1f9a3c" transform="translate(407.485,140.600) scale(0.00373,-0.00213)"/>
<use href="#gT" fill="#d7192f" transform="translate(407.577,137.600) scale(0.00425,-0.00355)"/>
<use href="#gG" fill="#f5a623" transform="translate(412.738,141.669) scale(0.00371,-0.00655)"/>
<use href="#gC" fill="#27338f" transform="translate(418.103,141.669) scale(0.00383,-0.00655)"/>
<use href="#gC" fill="#27338f" transform="translate(423.478,141.669) scale(0.00383,-0.00655)"/>
<use href="#gA" fill="#1f9a3c" transform="translate(428.985,141.800) scale(0.00373,-0.00674)"/>
<use href="#gG" fill="#f5a623" transform="translate(434.238,141.752) scale(0.00371,-0.00241)"/>
<use href="#gA" fill="#1f9a3c" transform="translate(434.360,138.300) scale(0.00373,-0.00390)"/>
<use href="#gT" fill="#d7192f" transform="translate(365.408,163.900) scale(0.00510,-0.00088)"/>
<use href="#gC" fill="#27338f" transform="translate(365.139,162.639) scale(0.00459,-0.00103)"/>
<use href="#gA" fill="#1f9a3c" transform="translate(365.297,161.172) scale(0.00448,-0.00634)"/>
<use href="#gA" fill="#1f9a3c" transform="translate(371.697,163.900) scale(0.00448,-0.00088)"/>
<use href="#gC" fill="#27338f" transform="translate(371.539,162.633) scale(0.00459,-0.00137)"/>
<use href="#gG" fill="#f5a623" transform="translate(371.551,160.560) scale(0.00445,-0.00582)"/>
<use href="#gA" fill="#1f9a3c" transform="translate(378.097,163.900) scale(0.00448,-0.00854)"/>
<use href="#gG" fill="#f5a623" transform="translate(384.351,163.732) scale(0.00445,-0.00838)"/>
<use href="#gG" fill="#f5a623" transform="translate(390.751,163.732) scale(0.00445,-0.00838)"/>
<use href="#gA" fill="#1f9a3c" transform="translate(397.297,163.900) scale(0.00448,-0.00862)"/>
<use href="#gA" fill="#1f9a3c" transform="translate(403.697,163.900) scale(0.00448,-0.00862)"/>
<use href="#gG" fill="#f5a623" transform="translate(409.951,163.738) scale(0.00445,-0.00812)"/>
<use href="#gT" fill="#d7192f" transform="translate(416.608,163.900) scale(0.00510,-0.00836)"/>
<use href="#gA" fill="#1f9a3c" transform="translate(422.897,163.900) scale(0.00448,-0.00088)"/>
<use href="#gC" fill="#27338f" transform="translate(422.739,162.639) scale(0.00459,-0.00103)"/>
<use href="#gG" fill="#f5a623" transform="translate(422.751,161.056) scale(0.00445,-0.00582)"/>
<use href="#gA" fill="#1f9a3c" transform="translate(360.912,184.200) scale(0.00417,-0.00394)"/>
<use href="#gT" fill="#d7192f" transform="translate(361.016,178.650) scale(0.00475,-0.00331)"/>
<use href="#gT" fill="#d7192f" transform="translate(366.999,184.200) scale(0.00475,-0.00748)"/>
<use href="#gG" fill="#f5a623" transform="translate(372.743,184.055) scale(0.00415,-0.00727)"/>
<use href="#gC" fill="#27338f" transform="translate(378.715,184.055) scale(0.00428,-0.00727)"/>
<use href="#gT" fill="#d7192f" transform="translate(384.949,184.200) scale(0.00475,-0.00748)"/>
<use href="#gG" fill="#f5a623" transform="translate(390.693,184.055) scale(0.00415,-0.00727)"/>
<use href="#gA" fill="#1f9a3c" transform="translate(396.812,184.200) scale(0.00417,-0.00748)"/>
<use href="#gT" fill="#d7192f" transform="translate(402.899,184.200) scale(0.00475,-0.00079)"/>
<use href="#gC" fill="#27338f" transform="translate(402.649,183.044) scale(0.00428,-0.00230)"/>
<use href="#gG" fill="#f5a623" transform="translate(402.660,179.691) scale(0.00415,-0.00344)"/>
<use href="#gT" fill="#d7192f" transform="translate(408.882,184.200) scale(0.00475,-0.00748)"/>
<use href="#gC" fill="#27338f" transform="translate(414.615,184.055) scale(0.00428,-0.00727)"/>
<use href="#gA" fill="#1f9a3c" transform="translate(420.746,184.200) scale(0.00417,-0.00748)"/>
<use href="#gG" fill="#f5a623" transform="translate(426.593,184.185) scale(0.00415,-0.00077)"/>
<use href="#gC" fill="#27338f" transform="translate(426.582,183.067) scale(0.00428,-0.00115)"/>
<use href="#gT" fill="#d7192f" transform="translate(426.832,181.425) scale(0.00475,-0.00488)"/>
<use href="#gA" fill="#1f9a3c" transform="translate(368.365,206.800) scale(0.00510,-0.00337)"/>
<use href="#gT" fill="#d7192f" transform="translate(368.491,202.050) scale(0.00581,-0.00515)"/>
<use href="#gA" fill="#1f9a3c" transform="translate(375.627,206.800) scale(0.00510,-0.00843)"/>
<use href="#gA" fill="#1f9a3c" transform="translate(382.890,206.800) scale(0.00510,-0.00843)"/>
<use href="#gC" fill="#27338f" transform="translate(389.973,206.636) scale(0.00524,-0.00819)"/>
<use href="#gG" fill="#f5a623" transform="translate(397.249,206.731) scale(0.00507,-0.00345)"/>
<use href="#gC" fill="#27338f" transform="translate(397.235,201.710) scale(0.00524,-0.00448)"/>
<use href="#gA" fill="#1f9a3c" transform="translate(404.677,206.800) scale(0.00510,-0.00355)"/>
<use href="#gG" fill="#f5a623" transform="translate(404.511,201.714) scale(0.00507,-0.00431)"/>
<use href="#gT" fill="#d7192f" transform="translate(412.066,206.800) scale(0.00581,-0.00106)"/>
<use href="#gA" fill="#1f9a3c" transform="translate(411.940,205.300) scale(0.00510,-0.00160)"/>
<use href="#gC" fill="#27338f" transform="translate(411.760,202.947) scale(0.00524,-0.00517)"/>
<use href="#gT" fill="#d7192f" transform="translate(419.329,206.800) scale(0.00581,-0.00133)"/>
<use href="#gG" fill="#f5a623" transform="translate(419.036,204.877) scale(0.00507,-0.00241)"/>
<use href="#gA" fill="#1f9a3c" transform="translate(419.202,201.425) scale(0.00510,-0.00399)"/>
<text transform="translate(0.20,233.72) scale(1,1.0)" font-size="11.5" font-weight="bold" fill="#111" color="#111">D</text>
<text transform="translate(36.30,258.54) scale(1,1.12)" font-size="8" text-anchor="end" fill="#1c1c1c" color="#1c1c1c">NFIX</text>
<polyline points="40.8,247.00 42.5,247.00 42.5,261.30 40.8,261.30" fill="none" stroke="#333" stroke-width="0.8"/>
<text transform="translate(43.80,253.14) scale(1,1.12)" font-size="8" fill="#1c1c1c" color="#1c1c1c">0-9</text>
<text transform="translate(36.30,275.93) scale(1,1.12)" font-size="8" text-anchor="end" fill="#1c1c1c" color="#1c1c1c">RUNX1</text>
<polyline points="40.8,264.39 42.5,264.39 42.5,278.69 40.8,278.69" fill="none" stroke="#333" stroke-width="0.8"/>
<text transform="translate(43.80,270.53) scale(1,1.12)" font-size="8" fill="#1c1c1c" color="#1c1c1c">0-174</text>
<text transform="translate(36.30,293.32) scale(1,1.12)" font-size="8" text-anchor="end" fill="#1c1c1c" color="#1c1c1c">ETO2</text>
<polyline points="40.8,281.78 42.5,281.78 42.5,296.08 40.8,296.08" fill="none" stroke="#333" stroke-width="0.8"/>
<text transform="translate(43.80,287.92) scale(1,1.12)" font-size="8" fill="#1c1c1c" color="#1c1c1c">0-110</text>
<text transform="translate(36.30,310.71) scale(1,1.12)" font-size="8" text-anchor="end" fill="#1c1c1c" color="#1c1c1c">GATA2</text>
<polyline points="40.8,299.17 42.5,299.17 42.5,313.47 40.8,313.47" fill="none" stroke="#333" stroke-width="0.8"/>
<text transform="translate(43.80,305.31) scale(1,1.12)" font-size="8" fill="#1c1c1c" color="#1c1c1c">0-86</text>
<text transform="translate(36.30,328.10) scale(1,1.12)" font-size="8" text-anchor="end" fill="#1c1c1c" color="#1c1c1c">LDB1</text>
<polyline points="40.8,316.56 42.5,316.56 42.5,330.86 40.8,330.86" fill="none" stroke="#333" stroke-width="0.8"/>
<text transform="translate(43.80,322.70) scale(1,1.12)" font-size="8" fill="#1c1c1c" color="#1c1c1c">0-78</text>
<text transform="translate(36.30,345.49) scale(1,1.12)" font-size="8" text-anchor="end" fill="#1c1c1c" color="#1c1c1c">PU.1</text>
<polyline points="40.8,333.95 42.5,333.95 42.5,348.25 40.8,348.25" fill="none" stroke="#333" stroke-width="0.8"/>
<text transform="translate(43.80,340.09) scale(1,1.12)" font-size="8" fill="#1c1c1c" color="#1c1c1c">0-68</text>
<text transform="translate(36.30,362.88) scale(1,1.12)" font-size="8" text-anchor="end" fill="#1c1c1c" color="#1c1c1c">LYL1</text>
<polyline points="40.8,351.34 42.5,351.34 42.5,365.64 40.8,365.64" fill="none" stroke="#333" stroke-width="0.8"/>
<text transform="translate(43.80,357.48) scale(1,1.12)" font-size="8" fill="#1c1c1c" color="#1c1c1c">0-47</text>
<text transform="translate(36.30,380.27) scale(1,1.12)" font-size="8" text-anchor="end" fill="#1c1c1c" color="#1c1c1c">FLI1</text>
<polyline points="40.8,368.73 42.5,368.73 42.5,383.03 40.8,383.03" fill="none" stroke="#333" stroke-width="0.8"/>
<text transform="translate(43.80,374.87) scale(1,1.12)" font-size="8" fill="#1c1c1c" color="#1c1c1c">0-42</text>
<text transform="translate(36.30,397.66) scale(1,1.12)" font-size="8" text-anchor="end" fill="#1c1c1c" color="#1c1c1c">STAT3</text>
<polyline points="40.8,386.12 42.5,386.12 42.5,400.42 40.8,400.42" fill="none" stroke="#333" stroke-width="0.8"/>
<text transform="translate(43.80,392.26) scale(1,1.12)" font-size="8" fill="#1c1c1c" color="#1c1c1c">0-34</text>
<text transform="translate(36.30,415.05) scale(1,1.12)" font-size="8" text-anchor="end" fill="#1c1c1c" color="#1c1c1c">RAD21</text>
<polyline points="40.8,403.51 42.5,403.51 42.5,417.81 40.8,417.81" fill="none" stroke="#333" stroke-width="0.8"/>
<text transform="translate(43.80,409.65) scale(1,1.12)" font-size="8" fill="#1c1c1c" color="#1c1c1c">0-21</text>
<text transform="translate(36.30,432.44) scale(1,1.12)" font-size="8" text-anchor="end" fill="#1c1c1c" color="#1c1c1c">pSTAT1</text>
<polyline points="40.8,420.90 42.5,420.90 42.5,435.20 40.8,435.20" fill="none" stroke="#333" stroke-width="0.8"/>
<text transform="translate(43.80,427.04) scale(1,1.12)" font-size="8" fill="#1c1c1c" color="#1c1c1c">0-20</text>
<path d="M42.60,261.00 L42.60,260.40 L42.80,260.20 L43.00,260.00 L43.20,259.41 L43.40,258.96 L43.60,258.75 L43.80,258.76 L44.00,258.79 L44.20,258.82 L44.40,258.87 L44.60,258.92 L44.80,258.97 L45.00,259.03 L45.20,258.90 L45.40,258.76 L45.60,258.76 L45.80,258.88 L46.00,259.00 L46.20,259.12 L46.40,259.25 L46.60,259.38 L46.80,259.51 L47.00,259.66 L47.20,259.80 L47.40,259.96 L47.60,260.13 L47.80,260.31 L48.00,260.52 L48.00,261.00 Z M55.40,261.00 L55.40,260.69 L55.60,260.33 L55.80,260.04 L56.00,259.79 L56.20,259.56 L56.40,259.34 L56.60,259.13 L56.80,258.93 L57.00,258.75 L57.20,258.56 L57.40,258.39 L57.60,258.38 L57.80,258.54 L58.00,258.71 L58.20,258.88 L58.40,259.06 L58.60,259.24 L58.80,259.44 L59.00,259.64 L59.20,259.86 L59.40,260.10 L59.60,260.37 L59.60,261.00 Z M63.20,261.00 L63.20,260.40 L63.40,260.03 L63.60,259.71 L63.80,259.42 L64.00,259.15 L64.20,258.90 L64.40,258.66 L64.60,257.98 L64.80,257.36 L65.00,256.77 L65.20,256.62 L65.40,256.49 L65.60,256.37 L65.80,256.27 L66.00,256.19 L66.20,256.12 L66.40,256.08 L66.60,256.08 L66.80,256.13 L67.00,256.41 L67.20,256.09 L67.40,255.78 L67.60,255.46 L67.80,255.15 L68.00,255.18 L68.20,255.54 L68.40,255.91 L68.60,256.28 L68.80,256.65 L69.00,257.02 L69.20,257.40 L69.40,257.78 L69.60,258.17 L69.80,258.57 L70.00,258.97 L70.20,259.38 L70.40,259.80 L70.60,260.24 L70.60,261.00 Z M71.60,261.00 L71.60,260.61 L71.80,260.24 L72.00,259.97 L72.20,259.73 L72.40,259.53 L72.60,259.34 L72.80,259.16 L73.00,259.00 L73.20,259.16 L73.40,259.34 L73.60,259.53 L73.80,259.73 L74.00,259.97 L74.20,260.24 L74.40,260.61 L74.40,261.00 Z M77.00,261.00 L77.00,260.55 L77.20,260.28 L77.40,260.04 L77.60,259.83 L77.80,259.63 L78.00,259.44 L78.20,259.26 L78.40,259.09 L78.60,258.93 L78.80,258.77 L79.00,258.62 L79.20,258.47 L79.40,258.32 L79.60,258.18 L79.80,258.04 L80.00,257.90 L80.20,258.03 L80.40,258.16 L80.60,258.29 L80.80,258.43 L81.00,258.57 L81.20,258.71 L81.40,258.86 L81.60,259.01 L81.80,259.17 L82.00,259.33 L82.20,259.50 L82.40,259.68 L82.60,259.87 L82.80,260.08 L83.00,260.31 L83.20,260.57 L83.20,261.00 Z M87.20,261.00 L87.20,260.49 L87.40,260.22 L87.60,260.01 L87.80,259.82 L88.00,259.66 L88.20,259.50 L88.40,259.35 L88.60,259.22 L88.80,259.09 L89.00,258.96 L89.20,258.84 L89.40,258.73 L89.60,258.61 L89.80,258.51 L90.00,258.40 L90.20,258.53 L90.40,258.66 L90.60,258.79 L90.80,258.94 L91.00,259.09 L91.20,259.24 L91.40,259.41 L91.60,259.59 L91.80,259.79 L92.00,260.01 L92.20,259.61 L92.40,259.63 L92.60,259.73 L92.80,259.49 L93.00,259.28 L93.20,259.08 L93.40,258.89 L93.60,258.89 L93.80,259.08 L94.00,259.28 L94.20,258.90 L94.40,258.71 L94.60,258.59 L94.80,258.57 L95.00,258.87 L95.20,258.54 L95.40,258.22 L95.60,257.90 L95.80,257.60 L96.00,257.30 L96.20,257.60 L96.40,257.90 L96.60,258.22 L96.80,258.54 L97.00,258.87 L97.20,259.22 L97.40,259.59 L97.60,259.98 L97.80,260.41 L97.80,261.00 Z M102.80,261.00 L102.80,260.41 L103.00,260.15 L103.20,259.93 L103.40,259.72 L103.60,259.53 L103.80,259.35 L104.00,259.18 L104.20,259.01 L104.40,258.85 L104.60,258.69 L104.80,258.54 L105.00,258.39 L105.20,258.25 L105.40,258.11 L105.60,257.97 L105.80,257.97 L106.00,258.11 L106.20,258.25 L106.40,258.39 L106.60,258.54 L106.80,258.69 L107.00,258.85 L107.20,259.01 L107.40,259.18 L107.60,259.35 L107.80,259.53 L108.00,259.72 L108.20,259.93 L108.40,260.15 L108.60,260.41 L108.60,261.00 Z M115.40,261.00 L115.40,260.52 L115.60,260.28 L115.80,260.04 L116.00,259.80 L116.20,260.04 L116.40,260.28 L116.60,260.52 L116.60,261.00 Z M124.00,261.00 L124.00,260.52 L124.20,260.28 L124.40,260.04 L124.60,259.80 L124.80,260.04 L125.00,260.28 L125.20,260.52 L125.20,261.00 Z M129.20,261.00 L129.20,260.62 L129.40,260.43 L129.60,260.27 L129.80,260.13 L130.00,260.01 L130.20,259.90 L130.40,259.79 L130.60,259.69 L130.80,259.59 L131.00,259.50 L131.20,259.19 L131.40,259.09 L131.60,259.02 L131.80,258.98 L132.00,258.97 L132.20,258.97 L132.40,258.99 L132.60,259.04 L132.80,259.14 L133.00,259.42 L133.20,259.32 L133.40,259.23 L133.60,259.15 L133.80,259.06 L134.00,258.98 L134.20,258.90 L134.40,258.82 L134.60,258.75 L134.80,258.67 L135.00,258.60 L135.20,258.66 L135.40,258.72 L135.60,258.78 L135.80,258.84 L136.00,258.90 L136.20,258.96 L136.40,259.03 L136.60,259.10 L136.80,259.16 L137.00,259.23 L137.20,258.80 L137.40,258.62 L137.60,258.48 L137.80,258.38 L138.00,258.30 L138.20,258.23 L138.40,258.17 L138.60,258.13 L138.80,258.10 L139.00,258.09 L139.20,258.32 L139.40,258.58 L139.60,258.86 L139.80,259.18 L140.00,259.68 L140.20,259.85 L140.40,260.03 L140.60,260.24 L140.80,260.50 L140.80,261.00 Z M143.80,261.00 L143.80,260.62 L144.00,260.48 L144.20,260.37 L144.40,260.26 L144.60,260.17 L144.80,260.08 L145.00,260.00 L145.20,260.08 L145.40,260.17 L145.60,260.26 L145.80,260.37 L146.00,260.48 L146.20,260.62 L146.20,261.00 Z M151.80,261.00 L151.80,260.43 L152.00,260.22 L152.20,260.05 L152.40,259.90 L152.60,259.75 L152.80,259.62 L153.00,259.50 L153.20,259.62 L153.40,259.75 L153.60,259.90 L153.80,260.05 L154.00,260.22 L154.20,259.80 L154.40,259.75 L154.60,259.79 L154.80,259.56 L155.00,259.35 L155.20,259.16 L155.40,258.98 L155.60,258.81 L155.80,258.65 L156.00,258.50 L156.20,258.65 L156.40,258.81 L156.60,258.35 L156.80,258.05 L157.00,257.82 L157.20,257.63 L157.40,257.48 L157.60,257.38 L157.80,257.35 L158.00,257.64 L158.20,257.31 L158.40,256.98 L158.60,256.67 L158.80,256.35 L159.00,256.39 L159.20,256.79 L159.40,257.19 L159.60,257.60 L159.80,258.02 L160.00,258.47 L160.20,258.03 L160.40,258.06 L160.60,258.22 L160.80,258.51 L161.00,258.65 L161.20,258.38 L161.40,258.12 L161.60,258.12 L161.80,258.38 L162.00,258.65 L162.20,258.94 L162.40,258.60 L162.60,258.48 L162.80,258.50 L163.00,258.98 L163.20,258.59 L163.40,258.21 L163.60,257.84 L163.80,257.49 L164.00,257.14 L164.20,256.80 L164.40,257.14 L164.60,257.49 L164.80,257.84 L165.00,258.21 L165.20,258.59 L165.40,258.98 L165.60,259.40 L165.80,259.84 L166.00,260.33 L166.00,261.00 Z M168.20,261.00 L168.20,260.48 L168.40,260.27 L168.60,260.11 L168.80,259.97 L169.00,259.85 L169.20,259.74 L169.40,259.63 L169.60,259.54 L169.80,259.45 L170.00,259.37 L170.20,259.29 L170.40,259.21 L170.60,259.14 L170.80,259.07 L171.00,259.00 L171.20,259.07 L171.40,259.14 L171.60,259.21 L171.80,259.29 L172.00,259.37 L172.20,259.45 L172.40,259.54 L172.60,259.63 L172.80,259.74 L173.00,259.85 L173.20,259.97 L173.40,260.11 L173.60,260.27 L173.80,260.48 L173.80,261.00 Z M178.80,261.00 L178.80,260.42 L179.00,260.22 L179.20,260.04 L179.40,259.88 L179.60,259.74 L179.80,259.61 L180.00,259.48 L180.20,259.36 L180.40,259.25 L180.60,259.14 L180.80,259.04 L181.00,258.94 L181.20,258.84 L181.40,258.75 L181.60,258.75 L181.80,258.84 L182.00,258.94 L182.20,259.04 L182.40,259.14 L182.60,259.25 L182.80,259.36 L183.00,259.48 L183.20,259.61 L183.40,259.74 L183.60,259.88 L183.80,260.04 L184.00,260.22 L184.20,260.42 L184.20,261.00 Z M190.20,261.00 L190.20,260.56 L190.40,260.42 L190.60,260.32 L190.80,260.24 L191.00,260.17 L191.20,260.11 L191.40,260.05 L191.60,260.00 L191.80,259.95 L192.00,259.90 L192.20,259.86 L192.40,259.82 L192.60,259.82 L192.80,259.88 L193.00,259.93 L193.20,259.99 L193.40,260.06 L193.60,260.13 L193.80,260.21 L194.00,260.31 L194.20,260.44 L194.40,260.64 L194.40,261.00 Z M194.80,261.00 L194.80,260.06 L195.00,259.48 L195.20,258.97 L195.40,258.52 L195.60,258.10 L195.80,257.71 L196.00,257.33 L196.20,256.98 L196.40,256.63 L196.60,256.30 L196.80,255.97 L197.00,255.65 L197.20,255.69 L197.40,256.09 L197.60,256.50 L197.80,256.93 L198.00,257.38 L198.20,257.86 L198.40,258.36 L198.60,258.92 L198.80,259.54 L199.00,260.32 L199.20,258.66 L199.40,258.11 L199.60,257.74 L199.80,257.45 L200.00,257.20 L200.20,257.45 L200.40,257.15 L200.60,256.51 L200.80,256.12 L201.00,257.57 L201.20,256.70 L201.40,255.85 L201.60,255.02 L201.80,254.19 L202.00,253.38 L202.20,252.58 L202.40,251.79 L202.60,251.00 L202.80,250.22 L203.00,249.45 L203.20,248.68 L203.40,248.87 L203.60,250.03 L203.80,251.20 L204.00,250.64 L204.20,250.57 L204.40,250.92 L204.60,251.46 L204.80,252.14 L205.00,253.32 L205.20,255.01 L205.40,256.13 L205.60,256.41 L205.80,256.71 L206.00,257.03 L206.20,257.37 L206.40,257.76 L206.60,258.19 L206.80,258.71 L207.00,259.38 L207.00,261.00 Z M210.40,261.00 L210.40,260.38 L210.60,260.07 L210.80,259.81 L211.00,259.59 L211.20,259.38 L211.40,259.20 L211.60,259.02 L211.80,258.86 L212.00,258.70 L212.20,258.86 L212.40,259.02 L212.60,259.20 L212.80,259.38 L213.00,259.59 L213.20,259.81 L213.40,260.07 L213.60,260.38 L213.60,261.00 Z M222.80,261.00 L222.80,260.58 L223.00,260.46 L223.20,260.37 L223.40,260.28 L223.60,260.20 L223.80,260.13 L224.00,260.07 L224.20,260.01 L224.40,259.95 L224.60,259.90 L224.80,259.85 L225.00,259.80 L225.20,259.85 L225.40,259.90 L225.60,259.95 L225.80,260.01 L226.00,260.07 L226.20,260.13 L226.40,260.20 L226.60,260.28 L226.80,260.37 L227.00,260.46 L227.20,260.20 L227.40,260.21 L227.60,260.33 L227.80,260.23 L228.00,260.13 L228.20,260.05 L228.40,259.98 L228.60,259.90 L228.80,259.84 L229.00,259.78 L229.20,259.72 L229.40,259.66 L229.60,259.60 L229.80,259.55 L230.00,259.50 L230.20,259.55 L230.40,259.60 L230.60,259.66 L230.80,259.72 L231.00,259.78 L231.20,259.84 L231.40,259.90 L231.60,259.98 L231.80,260.05 L232.00,260.13 L232.20,260.23 L232.40,260.33 L232.60,260.45 L232.80,260.61 L232.80,261.00 Z M233.40,261.00 L233.40,260.34 L233.60,259.86 L233.80,259.42 L234.00,259.01 L234.20,258.63 L234.40,258.25 L234.60,257.89 L234.80,257.54 L235.00,257.20 L235.20,257.61 L235.40,258.03 L235.60,258.47 L235.80,258.93 L236.00,259.42 L236.20,259.95 L236.40,260.56 L236.40,261.00 Z " fill="#c20f2f"/>
<line x1="43" y1="261.00" x2="237" y2="261.00" stroke="#c20f2f" stroke-width="0.5" stroke-dasharray="1.5 2.5" opacity="0.6"/>
<path d="M196.00,278.39 L196.00,277.99 L196.20,277.83 L196.40,277.67 L196.60,277.47 L196.80,277.23 L197.00,276.99 L197.20,276.75 L197.40,276.51 L197.60,276.27 L197.80,276.03 L198.00,275.79 L198.20,275.55 L198.40,275.31 L198.60,275.07 L198.80,274.83 L199.00,274.59 L199.20,274.35 L199.40,274.11 L199.60,273.87 L199.80,271.74 L200.00,269.61 L200.20,267.48 L200.40,265.35 L200.60,265.39 L200.80,267.58 L201.00,269.77 L201.20,271.96 L201.40,274.15 L201.60,274.46 L201.80,274.76 L202.00,275.06 L202.20,275.37 L202.40,275.67 L202.60,275.97 L202.80,276.27 L203.00,276.58 L203.20,276.88 L203.40,277.18 L203.60,277.49 L203.80,277.79 L204.00,277.84 L204.20,277.90 L204.40,277.95 L204.60,278.01 L204.80,278.06 L205.00,278.12 L205.00,278.39 Z M207.60,278.39 L207.60,277.99 L207.80,277.79 L208.00,277.59 L208.20,277.79 L208.40,277.99 L208.40,278.39 Z M209.60,278.39 L209.60,277.99 L209.80,277.79 L210.00,277.59 L210.20,277.79 L210.40,277.99 L210.40,278.39 Z M221.80,278.39 L221.80,277.99 L222.00,277.81 L222.20,277.64 L222.40,277.49 L222.60,277.34 L222.80,277.34 L223.00,277.49 L223.20,277.64 L223.40,277.81 L223.60,277.99 L223.60,278.39 Z " fill="#d4137a"/>
<line x1="43" y1="278.39" x2="237" y2="278.39" stroke="#d4137a" stroke-width="0.4" stroke-dasharray="0.8 6" opacity="0.35"/>
<path d="M99.80,295.78 L99.80,295.42 L100.00,295.22 L100.20,295.04 L100.40,294.88 L100.60,294.72 L100.80,294.58 L101.00,294.43 L101.20,294.30 L101.40,294.17 L101.60,294.17 L101.80,294.30 L102.00,294.43 L102.20,294.58 L102.40,294.72 L102.60,294.88 L102.80,295.04 L103.00,295.22 L103.20,295.42 L103.20,295.78 Z M166.40,295.78 L166.40,295.35 L166.60,295.15 L166.80,294.97 L167.00,294.80 L167.20,294.97 L167.40,295.15 L167.60,295.35 L167.60,295.78 Z M170.40,295.78 L170.40,295.35 L170.60,295.15 L170.80,294.97 L171.00,294.80 L171.20,294.97 L171.40,295.15 L171.60,295.35 L171.60,295.78 Z M192.60,295.78 L192.60,295.48 L192.80,295.33 L193.00,295.18 L193.20,295.17 L193.40,295.15 L193.60,295.14 L193.80,295.12 L194.00,295.11 L194.20,295.09 L194.40,295.08 L194.60,295.07 L194.80,295.05 L195.00,295.04 L195.20,295.02 L195.40,295.01 L195.60,294.99 L195.80,294.98 L196.00,294.31 L196.20,293.63 L196.40,292.95 L196.60,292.28 L196.80,291.17 L197.00,290.06 L197.20,288.95 L197.40,287.84 L197.60,286.72 L197.80,285.61 L198.00,284.50 L198.20,283.39 L198.40,282.28 L198.60,282.45 L198.80,282.61 L199.00,282.78 L199.20,283.29 L199.40,283.80 L199.60,284.32 L199.80,284.83 L200.00,285.34 L200.20,285.85 L200.40,286.36 L200.60,286.87 L200.80,287.39 L201.00,287.90 L201.20,288.41 L201.40,288.92 L201.60,289.43 L201.80,289.94 L202.00,290.46 L202.20,290.97 L202.40,291.48 L202.60,291.85 L202.80,292.21 L203.00,292.58 L203.20,293.07 L203.40,293.56 L203.60,294.05 L203.80,294.54 L204.00,295.03 L204.20,295.34 L204.40,295.45 L204.40,295.78 Z M207.80,295.78 L207.80,295.38 L208.00,295.18 L208.20,295.38 L208.20,295.78 Z M231.80,295.78 L231.80,295.34 L232.00,295.14 L232.20,294.95 L232.40,294.78 L232.60,294.62 L232.80,294.46 L233.00,294.31 L233.20,294.17 L233.40,294.17 L233.60,294.31 L233.80,294.46 L234.00,294.62 L234.20,294.78 L234.40,294.95 L234.60,295.14 L234.80,295.34 L234.80,295.78 Z " fill="#d4137a"/>
<line x1="43" y1="295.78" x2="237" y2="295.78" stroke="#d4137a" stroke-width="0.4" stroke-dasharray="0.8 6" opacity="0.35"/>
<path d="M46.20,313.17 L46.20,312.79 L46.40,312.67 L46.60,312.56 L46.80,312.46 L47.00,312.36 L47.20,312.26 L47.40,312.17 L47.60,312.08 L47.80,311.99 L48.00,311.91 L48.20,311.99 L48.40,312.08 L48.60,312.17 L48.80,312.19 L49.00,312.12 L49.20,312.08 L49.40,312.07 L49.60,312.07 L49.80,312.08 L50.00,312.12 L50.20,312.19 L50.40,312.17 L50.60,312.08 L50.80,311.99 L51.00,311.91 L51.20,311.99 L51.40,312.08 L51.60,312.17 L51.80,312.26 L52.00,312.36 L52.20,312.46 L52.40,312.56 L52.60,312.67 L52.80,312.79 L52.80,313.17 Z M89.60,313.17 L89.60,312.86 L89.80,312.73 L90.00,312.62 L90.20,312.51 L90.40,312.41 L90.60,312.31 L90.80,312.22 L91.00,312.13 L91.20,312.04 L91.40,311.95 L91.60,311.95 L91.80,312.04 L92.00,312.13 L92.20,312.22 L92.40,312.31 L92.60,312.41 L92.80,312.51 L93.00,312.62 L93.20,312.73 L93.40,312.86 L93.40,313.17 Z M192.80,313.17 L192.80,312.80 L193.00,312.67 L193.20,312.65 L193.40,312.62 L193.60,312.60 L193.80,312.57 L194.00,312.55 L194.20,312.52 L194.40,312.50 L194.60,312.47 L194.80,312.44 L195.00,312.42 L195.20,312.40 L195.40,312.37 L195.60,311.79 L195.80,311.21 L196.00,310.62 L196.20,310.04 L196.40,309.46 L196.60,308.85 L196.80,308.20 L197.00,307.55 L197.20,306.90 L197.40,306.26 L197.60,305.61 L197.80,304.96 L198.00,304.31 L198.20,303.67 L198.40,303.02 L198.60,302.37 L198.80,301.89 L199.00,301.41 L199.20,300.93 L199.40,300.45 L199.60,299.97 L199.80,299.88 L200.00,299.80 L200.20,299.71 L200.40,299.81 L200.60,300.10 L200.80,300.38 L201.00,300.66 L201.20,300.95 L201.40,301.23 L201.60,301.82 L201.80,302.73 L202.00,303.64 L202.20,304.54 L202.40,305.45 L202.60,306.36 L202.80,307.26 L203.00,308.17 L203.20,308.99 L203.40,309.81 L203.60,310.62 L203.80,311.44 L204.00,312.26 L204.20,312.73 L204.40,312.84 L204.40,313.17 Z M208.40,313.17 L208.40,312.81 L208.60,312.63 L208.80,312.45 L209.00,312.27 L209.20,312.45 L209.40,312.63 L209.60,312.81 L209.60,313.17 Z M214.60,313.17 L214.60,312.76 L214.80,312.62 L215.00,312.48 L215.20,312.36 L215.40,312.24 L215.60,312.13 L215.80,312.02 L216.00,311.91 L216.20,312.02 L216.40,312.13 L216.60,312.24 L216.80,312.36 L217.00,312.48 L217.20,312.62 L217.40,312.76 L217.40,313.17 Z " fill="#d4137a"/>
<line x1="43" y1="313.17" x2="237" y2="313.17" stroke="#d4137a" stroke-width="0.4" stroke-dasharray="0.8 6" opacity="0.35"/>
<path d="M54.40,330.56 L54.40,330.19 L54.60,330.02 L54.80,329.86 L55.00,329.72 L55.20,329.86 L55.40,330.02 L55.60,330.19 L55.60,330.56 Z M193.00,330.56 L193.00,330.20 L193.20,330.06 L193.40,330.04 L193.60,330.02 L193.80,329.99 L194.00,329.97 L194.20,329.95 L194.40,329.93 L194.60,329.90 L194.80,329.88 L195.00,329.86 L195.20,329.84 L195.40,329.82 L195.60,329.79 L195.80,329.77 L196.00,329.29 L196.20,328.36 L196.40,327.43 L196.60,326.49 L196.80,325.56 L197.00,324.08 L197.20,322.60 L197.40,321.12 L197.60,319.64 L197.80,318.16 L198.00,318.02 L198.20,317.88 L198.40,317.74 L198.60,317.60 L198.80,317.46 L199.00,317.52 L199.20,317.58 L199.40,317.64 L199.60,317.70 L199.80,317.76 L200.00,318.27 L200.20,318.77 L200.40,319.28 L200.60,319.78 L200.80,320.29 L201.00,320.80 L201.20,321.30 L201.40,321.81 L201.60,322.39 L201.80,323.06 L202.00,323.73 L202.20,324.39 L202.40,325.06 L202.60,325.73 L202.80,326.39 L203.00,327.06 L203.20,327.73 L203.40,328.39 L203.60,329.06 L203.80,329.73 L204.00,330.11 L204.20,330.20 L204.40,330.29 L204.40,330.56 Z " fill="#d4137a"/>
<line x1="43" y1="330.56" x2="237" y2="330.56" stroke="#d4137a" stroke-width="0.4" stroke-dasharray="0.8 6" opacity="0.35"/>
<path d="M73.40,347.95 L73.40,347.47 L73.60,347.21 L73.80,346.97 L74.00,346.76 L74.20,346.55 L74.40,346.76 L74.60,346.97 L74.80,347.21 L75.00,347.47 L75.00,347.95 Z M80.40,347.95 L80.40,347.62 L80.60,347.34 L80.80,347.09 L81.00,346.86 L81.20,346.65 L81.40,346.65 L81.60,346.86 L81.80,347.09 L82.00,347.34 L82.20,347.62 L82.20,347.95 Z M91.00,347.95 L91.00,347.51 L91.20,347.21 L91.40,346.95 L91.60,346.71 L91.80,346.48 L92.00,346.27 L92.20,346.10 L92.40,345.99 L92.60,345.94 L92.80,345.93 L93.00,345.98 L93.20,346.18 L93.40,345.96 L93.60,345.74 L93.80,345.53 L94.00,345.32 L94.20,345.53 L94.40,345.74 L94.60,345.96 L94.80,346.18 L95.00,346.42 L95.20,346.67 L95.40,346.93 L95.60,347.23 L95.80,347.57 L95.80,347.95 Z M100.20,347.95 L100.20,347.47 L100.40,347.21 L100.60,346.97 L100.80,346.76 L101.00,346.55 L101.20,346.76 L101.40,346.97 L101.60,347.21 L101.80,347.47 L101.80,347.95 Z M102.60,347.95 L102.60,347.56 L102.80,347.21 L103.00,346.92 L103.20,346.64 L103.40,346.39 L103.60,346.39 L103.80,346.64 L104.00,346.92 L104.20,347.21 L104.40,347.56 L104.40,347.95 Z M105.20,347.95 L105.20,347.47 L105.40,347.21 L105.60,346.97 L105.80,346.76 L106.00,346.55 L106.20,346.76 L106.40,346.97 L106.60,347.21 L106.80,347.47 L106.80,347.95 Z M116.20,347.95 L116.20,347.57 L116.40,347.36 L116.60,347.17 L116.80,346.99 L117.00,346.83 L117.20,346.99 L117.40,347.17 L117.60,347.36 L117.80,347.57 L117.80,347.95 Z M134.40,347.95 L134.40,347.47 L134.60,347.13 L134.80,346.84 L135.00,346.58 L135.20,346.33 L135.40,346.09 L135.60,345.86 L135.80,345.64 L136.00,345.43 L136.20,345.64 L136.40,345.86 L136.60,346.09 L136.80,346.33 L137.00,346.58 L137.20,346.84 L137.40,347.13 L137.60,347.47 L137.60,347.95 Z M143.20,347.95 L143.20,347.52 L143.40,347.28 L143.60,347.07 L143.80,346.87 L144.00,346.69 L144.20,346.87 L144.40,347.07 L144.60,347.28 L144.80,347.52 L144.80,347.95 Z M146.20,347.95 L146.20,347.52 L146.40,347.28 L146.60,347.07 L146.80,346.87 L147.00,346.69 L147.20,346.87 L147.40,347.07 L147.60,347.28 L147.80,347.52 L147.80,347.95 Z M151.80,347.95 L151.80,347.66 L152.00,347.40 L152.20,347.17 L152.40,346.97 L152.60,346.78 L152.80,346.78 L153.00,346.97 L153.20,347.17 L153.40,347.40 L153.60,347.66 L153.60,347.95 Z M157.20,347.95 L157.20,347.52 L157.40,347.28 L157.60,347.07 L157.80,346.87 L158.00,346.69 L158.20,346.87 L158.40,347.07 L158.60,347.28 L158.80,347.52 L158.80,347.95 Z M162.40,347.95 L162.40,347.40 L162.60,347.14 L162.80,346.91 L163.00,346.69 L163.20,346.91 L163.40,347.14 L163.60,347.40 L163.60,347.95 Z M197.20,347.95 L197.20,346.42 L197.40,344.03 L197.60,341.67 L197.80,339.34 L198.00,337.03 L198.20,336.56 L198.40,337.93 L198.60,339.32 L198.80,340.71 L199.00,342.10 L199.20,343.51 L199.40,344.08 L199.60,344.08 L199.80,344.34 L200.00,344.00 L200.20,343.67 L200.40,343.35 L200.60,343.03 L200.80,342.73 L201.00,343.49 L201.20,344.27 L201.40,345.06 L201.60,345.87 L201.80,346.73 L201.80,347.95 Z M206.00,347.95 L206.00,347.24 L206.20,345.81 L206.40,344.39 L206.60,342.96 L206.80,342.96 L207.00,344.39 L207.20,345.81 L207.40,347.24 L207.40,347.95 Z M215.60,347.95 L215.60,347.58 L215.80,347.11 L216.00,346.72 L216.20,346.37 L216.40,346.04 L216.60,345.73 L216.80,345.43 L217.00,345.15 L217.20,345.43 L217.40,345.12 L217.60,345.02 L217.80,344.99 L218.00,345.01 L218.20,345.09 L218.40,345.26 L218.60,345.34 L218.80,345.07 L219.00,344.80 L219.20,345.07 L219.40,345.34 L219.60,345.63 L219.80,345.62 L220.00,345.55 L220.20,345.56 L220.40,345.64 L220.60,345.78 L220.80,346.14 L221.00,345.89 L221.20,345.66 L221.40,345.44 L221.60,345.44 L221.80,345.66 L222.00,345.89 L222.20,346.14 L222.40,346.09 L222.60,345.97 L222.80,345.93 L223.00,345.96 L223.20,346.07 L223.40,346.12 L223.60,345.88 L223.80,345.64 L224.00,345.88 L224.20,346.12 L224.40,346.38 L224.60,346.65 L224.80,346.94 L225.00,347.26 L225.20,347.65 L225.20,347.95 Z M231.40,347.95 L231.40,347.53 L231.60,347.15 L231.80,346.83 L232.00,346.54 L232.20,346.26 L232.40,346.26 L232.60,346.54 L232.80,346.83 L233.00,347.15 L233.20,347.53 L233.20,347.95 Z " fill="#d4137a"/>
<line x1="43" y1="347.95" x2="237" y2="347.95" stroke="#d4137a" stroke-width="0.4" stroke-dasharray="0.8 6" opacity="0.35"/>
<path d="M51.80,365.34 L51.80,364.98 L52.00,364.73 L52.20,364.51 L52.40,364.31 L52.60,364.31 L52.80,364.51 L53.00,364.73 L53.20,364.98 L53.20,365.34 Z M67.20,365.34 L67.20,365.02 L67.40,364.80 L67.60,364.60 L67.80,364.43 L68.00,364.26 L68.20,364.10 L68.40,363.95 L68.60,363.80 L68.80,363.66 L69.00,363.83 L69.20,364.01 L69.40,363.92 L69.60,363.87 L69.80,363.87 L70.00,363.92 L70.20,364.02 L70.40,364.07 L70.60,363.91 L70.80,363.75 L71.00,363.60 L71.20,363.45 L71.40,363.31 L71.60,363.31 L71.80,363.45 L72.00,363.60 L72.20,363.75 L72.40,363.91 L72.60,364.07 L72.80,364.24 L73.00,364.42 L73.20,364.61 L73.40,364.82 L73.60,365.06 L73.60,365.34 Z M151.40,365.34 L151.40,364.85 L151.60,364.62 L151.80,364.41 L152.00,364.22 L152.20,364.41 L152.40,364.62 L152.60,364.85 L152.60,365.34 Z M156.40,365.34 L156.40,364.85 L156.60,364.62 L156.80,364.41 L157.00,364.22 L157.20,364.41 L157.40,364.62 L157.60,364.85 L157.60,365.34 Z M163.40,365.34 L163.40,364.85 L163.60,364.62 L163.80,364.41 L164.00,364.22 L164.20,364.41 L164.40,364.62 L164.60,364.85 L164.60,365.34 Z M195.60,365.34 L195.60,364.95 L195.80,364.50 L196.00,364.14 L196.20,363.82 L196.40,363.53 L196.60,363.26 L196.80,363.00 L197.00,362.76 L197.20,362.52 L197.40,362.29 L197.60,362.07 L197.80,361.86 L198.00,361.65 L198.20,361.18 L198.40,360.44 L198.60,359.71 L198.80,358.99 L199.00,358.27 L199.20,357.55 L199.40,356.83 L199.60,356.12 L199.80,356.47 L200.00,356.83 L200.20,357.19 L200.40,357.56 L200.60,358.09 L200.80,358.79 L201.00,359.50 L201.20,359.94 L201.40,359.53 L201.60,358.55 L201.80,357.56 L202.00,356.58 L202.20,355.60 L202.40,354.63 L202.60,354.59 L202.80,355.49 L203.00,356.40 L203.20,357.31 L203.40,358.22 L203.60,359.14 L203.80,360.07 L204.00,361.01 L204.20,361.95 L204.40,362.91 L204.60,363.53 L204.80,363.82 L205.00,364.14 L205.20,364.50 L205.40,364.95 L205.40,365.34 Z M209.00,365.34 L209.00,364.90 L209.20,364.61 L209.40,364.31 L209.60,364.02 L209.80,363.73 L210.00,363.43 L210.20,363.14 L210.40,363.43 L210.60,363.73 L210.80,364.02 L211.00,364.31 L211.20,364.61 L211.40,364.90 L211.40,365.34 Z M213.20,365.34 L213.20,364.96 L213.40,364.75 L213.60,364.56 L213.80,364.38 L214.00,364.22 L214.20,364.38 L214.40,364.56 L214.60,364.75 L214.80,364.96 L214.80,365.34 Z M218.20,365.34 L218.20,364.96 L218.40,364.75 L218.60,364.56 L218.80,364.38 L219.00,364.22 L219.20,364.38 L219.40,364.56 L219.60,364.75 L219.80,364.96 L219.80,365.34 Z M225.20,365.34 L225.20,364.96 L225.40,364.75 L225.60,364.56 L225.80,364.38 L226.00,364.22 L226.20,364.38 L226.40,364.56 L226.60,364.75 L226.80,364.96 L226.80,365.34 Z M231.20,365.34 L231.20,364.96 L231.40,364.75 L231.60,364.56 L231.80,364.38 L232.00,364.22 L232.20,364.38 L232.40,364.56 L232.60,364.75 L232.80,364.96 L232.80,365.34 Z " fill="#d4137a"/>
<line x1="43" y1="365.34" x2="237" y2="365.34" stroke="#d4137a" stroke-width="0.4" stroke-dasharray="0.8 6" opacity="0.35"/>
<path d="M46.20,382.73 L46.20,382.40 L46.40,382.29 L46.60,382.19 L46.80,382.10 L47.00,382.01 L47.20,381.92 L47.40,381.84 L47.60,381.76 L47.80,381.69 L48.00,381.61 L48.20,381.69 L48.40,381.76 L48.60,381.84 L48.80,381.92 L49.00,382.01 L49.20,382.10 L49.40,382.19 L49.60,382.29 L49.80,382.40 L49.80,382.73 Z M50.60,382.73 L50.60,382.37 L50.80,382.24 L51.00,382.12 L51.20,382.01 L51.40,381.90 L51.60,381.80 L51.80,381.70 L52.00,381.61 L52.20,381.70 L52.40,381.80 L52.60,381.90 L52.80,382.01 L53.00,382.12 L53.20,382.24 L53.40,382.37 L53.40,382.73 Z M71.60,382.73 L71.60,382.37 L71.80,382.12 L72.00,381.90 L72.20,381.70 L72.40,381.70 L72.60,381.90 L72.80,382.12 L73.00,382.37 L73.00,382.73 Z M80.20,382.73 L80.20,382.42 L80.40,382.21 L80.60,382.03 L80.80,381.86 L81.00,381.70 L81.20,381.55 L81.40,381.40 L81.60,381.40 L81.80,381.55 L82.00,381.70 L82.20,381.86 L82.40,382.03 L82.60,382.21 L82.80,382.42 L82.80,382.73 Z M92.20,382.73 L92.20,382.12 L92.40,381.57 L92.60,381.10 L92.80,380.68 L93.00,380.28 L93.20,379.90 L93.40,379.54 L93.60,379.19 L93.80,378.86 L94.00,378.53 L94.20,378.77 L94.40,379.01 L94.60,379.25 L94.80,379.50 L95.00,379.76 L95.20,380.03 L95.40,380.30 L95.60,380.40 L95.80,380.47 L96.00,380.59 L96.20,380.75 L96.40,380.97 L96.60,381.27 L96.80,381.47 L97.00,381.33 L97.20,381.47 L97.40,381.62 L97.60,381.78 L97.80,381.94 L98.00,382.12 L98.20,382.31 L98.20,382.73 Z M99.80,382.73 L99.80,382.25 L100.00,381.99 L100.20,381.75 L100.40,381.54 L100.60,381.33 L100.80,381.54 L101.00,381.75 L101.20,381.99 L101.40,382.25 L101.40,382.73 Z M107.60,382.73 L107.60,382.37 L107.80,382.12 L108.00,381.90 L108.20,381.70 L108.40,381.70 L108.60,381.90 L108.80,382.12 L109.00,382.37 L109.00,382.73 Z M116.40,382.73 L116.40,382.24 L116.60,382.01 L116.80,381.80 L117.00,381.61 L117.20,381.80 L117.40,382.01 L117.60,382.24 L117.60,382.73 Z M136.40,382.73 L136.40,382.24 L136.60,382.01 L136.80,381.80 L137.00,381.61 L137.20,381.80 L137.40,382.01 L137.60,382.24 L137.60,382.73 Z M148.40,382.73 L148.40,382.24 L148.60,382.01 L148.80,381.80 L149.00,381.61 L149.20,381.80 L149.40,382.01 L149.60,382.24 L149.60,382.73 Z M155.20,382.73 L155.20,382.35 L155.40,382.14 L155.60,381.95 L155.80,381.77 L156.00,381.61 L156.20,381.77 L156.40,381.95 L156.60,382.14 L156.80,382.35 L156.80,382.73 Z M162.00,382.73 L162.00,382.40 L162.20,382.18 L162.40,381.98 L162.60,381.80 L162.80,381.63 L163.00,381.47 L163.20,381.63 L163.40,381.80 L163.60,381.98 L163.80,382.18 L164.00,382.40 L164.00,382.73 Z M170.40,382.73 L170.40,382.24 L170.60,382.01 L170.80,381.80 L171.00,381.61 L171.20,381.80 L171.40,382.01 L171.60,382.24 L171.60,382.73 Z M194.20,382.73 L194.20,382.12 L194.40,381.80 L194.60,381.55 L194.80,381.33 L195.00,381.12 L195.20,380.94 L195.40,380.77 L195.60,380.33 L195.80,379.65 L196.00,378.96 L196.20,378.29 L196.40,377.62 L196.60,376.95 L196.80,376.29 L197.00,375.63 L197.20,376.04 L197.40,376.45 L197.60,376.87 L197.80,377.29 L198.00,377.71 L198.20,377.87 L198.40,378.02 L198.60,377.92 L198.80,377.55 L199.00,377.18 L199.20,376.81 L199.40,376.45 L199.60,376.35 L199.80,376.52 L200.00,376.69 L200.20,376.87 L200.40,377.04 L200.60,377.22 L200.80,377.39 L201.00,377.57 L201.20,376.62 L201.40,375.66 L201.60,374.71 L201.80,373.76 L202.00,372.81 L202.20,371.86 L202.40,370.91 L202.60,370.75 L202.80,371.39 L203.00,372.04 L203.20,372.84 L203.40,373.64 L203.60,374.45 L203.80,375.25 L204.00,376.06 L204.20,376.86 L204.40,377.31 L204.60,377.39 L204.80,377.48 L205.00,377.57 L205.20,377.19 L205.40,376.82 L205.60,376.44 L205.80,376.07 L206.00,375.69 L206.20,375.32 L206.40,374.95 L206.60,375.05 L206.80,375.61 L207.00,376.18 L207.20,376.75 L207.40,377.32 L207.60,377.89 L207.80,378.47 L208.00,379.04 L208.20,379.15 L208.40,379.27 L208.60,379.38 L208.80,379.50 L209.00,379.63 L209.20,379.55 L209.40,379.48 L209.60,379.42 L209.80,379.35 L210.00,379.30 L210.20,379.58 L210.40,379.87 L210.60,380.17 L210.80,380.47 L211.00,380.79 L211.20,381.13 L211.40,381.48 L211.60,381.80 L211.80,382.12 L211.80,382.73 Z M216.00,382.73 L216.00,382.36 L216.20,382.12 L216.40,381.90 L216.60,381.70 L216.80,381.51 L217.00,381.33 L217.20,381.51 L217.40,381.70 L217.60,381.90 L217.80,382.12 L218.00,382.36 L218.00,382.73 Z M221.00,382.73 L221.00,382.36 L221.20,382.12 L221.40,381.90 L221.60,381.70 L221.80,381.51 L222.00,381.33 L222.20,381.51 L222.40,381.70 L222.60,381.90 L222.80,382.12 L223.00,382.36 L223.00,382.73 Z M233.20,382.73 L233.20,382.35 L233.40,382.14 L233.60,381.95 L233.80,381.77 L234.00,381.61 L234.20,381.77 L234.40,381.95 L234.60,382.14 L234.80,382.35 L234.80,382.73 Z " fill="#d4137a"/>
<line x1="43" y1="382.73" x2="237" y2="382.73" stroke="#d4137a" stroke-width="0.4" stroke-dasharray="0.8 6" opacity="0.35"/>
<path d="M47.20,400.12 L47.20,399.50 L47.40,399.08 L47.60,398.71 L47.80,398.37 L48.00,398.05 L48.20,397.75 L48.40,397.46 L48.60,397.44 L48.80,397.68 L49.00,397.93 L49.20,398.18 L49.40,398.46 L49.60,398.56 L49.80,398.63 L50.00,398.78 L50.20,399.01 L50.40,399.17 L50.60,399.01 L50.80,398.86 L51.00,398.72 L51.20,398.86 L51.40,399.01 L51.60,399.17 L51.80,399.33 L52.00,399.51 L52.20,399.70 L52.20,400.12 Z M56.60,400.12 L56.60,399.71 L56.80,399.57 L57.00,399.43 L57.20,399.31 L57.40,399.19 L57.60,399.08 L57.80,398.97 L58.00,398.86 L58.20,398.97 L58.40,399.08 L58.60,399.19 L58.80,399.31 L59.00,399.43 L59.20,399.57 L59.40,399.47 L59.60,399.47 L59.80,399.57 L60.00,399.43 L60.20,399.31 L60.40,399.19 L60.60,399.08 L60.80,398.97 L61.00,398.86 L61.20,398.97 L61.40,399.08 L61.60,399.19 L61.80,399.31 L62.00,399.43 L62.20,399.57 L62.40,399.71 L62.40,400.12 Z M63.00,400.12 L63.00,399.79 L63.20,399.64 L63.40,399.50 L63.60,399.37 L63.80,399.25 L64.00,399.13 L64.20,399.02 L64.40,398.91 L64.60,398.91 L64.80,399.02 L65.00,399.13 L65.20,399.25 L65.40,399.37 L65.60,399.50 L65.80,399.64 L66.00,399.79 L66.00,400.12 Z M66.60,400.12 L66.60,399.71 L66.80,399.57 L67.00,399.43 L67.20,399.31 L67.40,399.19 L67.60,399.08 L67.80,398.97 L68.00,398.86 L68.20,398.97 L68.40,399.08 L68.60,399.19 L68.80,399.31 L69.00,399.43 L69.20,399.57 L69.40,399.71 L69.40,400.12 Z M70.60,400.12 L70.60,399.71 L70.80,399.57 L71.00,399.43 L71.20,399.31 L71.40,399.19 L71.60,399.08 L71.80,398.97 L72.00,398.86 L72.20,398.97 L72.40,399.08 L72.60,399.19 L72.80,399.31 L73.00,399.43 L73.20,399.57 L73.40,399.71 L73.40,400.12 Z M80.00,400.12 L80.00,399.80 L80.20,399.62 L80.40,399.46 L80.60,399.31 L80.80,399.17 L81.00,399.04 L81.20,398.91 L81.40,398.79 L81.60,398.67 L81.80,398.55 L82.00,398.44 L82.20,398.55 L82.40,398.67 L82.60,398.79 L82.80,398.91 L83.00,399.04 L83.20,399.17 L83.40,399.31 L83.60,399.46 L83.80,399.62 L84.00,399.80 L84.00,400.12 Z M87.00,400.12 L87.00,399.64 L87.20,399.37 L87.40,399.13 L87.60,398.91 L87.80,398.70 L88.00,398.50 L88.20,398.31 L88.40,398.12 L88.60,397.94 L88.80,397.77 L89.00,397.60 L89.20,397.77 L89.40,397.94 L89.60,398.12 L89.80,398.16 L90.00,398.01 L90.20,397.94 L90.40,397.91 L90.60,397.91 L90.80,397.94 L91.00,398.01 L91.20,398.16 L91.40,398.12 L91.60,397.94 L91.80,397.77 L92.00,397.60 L92.20,397.77 L92.40,397.94 L92.60,398.12 L92.80,398.31 L93.00,398.50 L93.20,398.70 L93.40,398.91 L93.60,399.13 L93.80,399.37 L94.00,399.64 L94.00,400.12 Z M97.40,400.12 L97.40,399.72 L97.60,399.44 L97.80,399.20 L98.00,398.98 L98.20,398.77 L98.40,398.57 L98.60,398.38 L98.80,397.97 L99.00,397.25 L99.20,397.00 L99.40,396.81 L99.60,396.65 L99.80,396.52 L100.00,396.41 L100.20,396.33 L100.40,396.28 L100.60,396.27 L100.80,396.40 L101.00,396.13 L101.20,396.40 L101.40,396.33 L101.60,396.31 L101.80,396.34 L102.00,396.40 L102.20,396.49 L102.40,396.61 L102.60,396.76 L102.80,396.94 L103.00,397.18 L103.20,397.53 L103.40,397.58 L103.60,397.58 L103.80,397.76 L104.00,397.95 L104.20,398.14 L104.40,398.33 L104.60,398.31 L104.80,398.24 L105.00,398.23 L105.20,398.26 L105.40,398.32 L105.60,398.44 L105.80,398.61 L106.00,398.44 L106.20,398.61 L106.40,398.79 L106.60,398.97 L106.80,399.17 L107.00,399.38 L107.20,399.62 L107.20,400.12 Z M114.80,400.12 L114.80,399.70 L115.00,399.51 L115.20,399.33 L115.40,399.17 L115.60,399.01 L115.80,398.86 L116.00,398.72 L116.20,398.86 L116.40,399.01 L116.60,399.17 L116.80,399.33 L117.00,399.51 L117.20,399.70 L117.20,400.12 Z M117.80,400.12 L117.80,399.70 L118.00,399.51 L118.20,399.33 L118.40,399.17 L118.60,399.01 L118.80,398.86 L119.00,398.72 L119.20,398.86 L119.40,399.01 L119.60,399.17 L119.80,399.33 L120.00,399.51 L120.20,399.70 L120.20,400.12 Z M121.60,400.12 L121.60,399.84 L121.80,399.49 L122.00,399.20 L122.20,398.93 L122.40,398.69 L122.60,398.46 L122.80,398.23 L123.00,398.02 L123.20,398.23 L123.40,398.46 L123.60,398.69 L123.80,398.61 L124.00,398.47 L124.20,398.42 L124.40,398.47 L124.60,398.46 L124.80,398.18 L125.00,397.93 L125.20,397.68 L125.40,397.44 L125.60,397.44 L125.80,397.68 L126.00,397.93 L126.20,398.18 L126.40,398.46 L126.60,398.74 L126.80,399.05 L127.00,399.39 L127.20,399.80 L127.20,400.12 Z M141.20,400.12 L141.20,399.74 L141.40,399.53 L141.60,399.34 L141.80,399.16 L142.00,399.00 L142.20,399.16 L142.40,399.34 L142.60,399.53 L142.80,399.74 L142.80,400.12 Z M148.40,400.12 L148.40,399.72 L148.60,399.44 L148.80,399.20 L149.00,398.98 L149.20,398.77 L149.40,398.57 L149.60,398.38 L149.80,398.20 L150.00,398.02 L150.20,398.20 L150.40,398.38 L150.60,398.57 L150.80,398.77 L151.00,398.98 L151.20,399.20 L151.40,399.44 L151.60,399.44 L151.80,399.49 L152.00,399.20 L152.20,398.93 L152.40,398.69 L152.60,398.46 L152.80,398.23 L153.00,398.02 L153.20,398.23 L153.40,398.46 L153.60,398.69 L153.80,398.93 L154.00,399.20 L154.20,399.49 L154.40,399.84 L154.40,400.12 Z M154.80,400.12 L154.80,399.62 L155.00,399.38 L155.20,399.17 L155.40,398.97 L155.60,398.79 L155.80,398.61 L156.00,398.44 L156.20,398.61 L156.40,398.79 L156.60,398.97 L156.80,399.17 L157.00,399.38 L157.20,399.62 L157.20,400.12 Z M170.40,400.12 L170.40,399.75 L170.60,399.50 L170.80,399.28 L171.00,399.07 L171.20,398.88 L171.40,398.70 L171.60,398.52 L171.80,398.52 L172.00,398.70 L172.20,398.88 L172.40,399.07 L172.60,399.28 L172.80,399.50 L173.00,399.75 L173.00,400.12 Z M194.40,400.12 L194.40,399.82 L194.60,399.47 L194.80,399.19 L195.00,398.94 L195.20,398.71 L195.40,398.50 L195.60,398.30 L195.80,398.11 L196.00,397.92 L196.20,397.74 L196.40,397.57 L196.60,397.40 L196.80,397.24 L197.00,395.88 L197.20,394.53 L197.40,393.17 L197.60,391.82 L197.80,390.48 L198.00,389.13 L198.20,387.79 L198.40,387.63 L198.60,388.64 L198.80,389.65 L199.00,390.67 L199.20,391.69 L199.40,392.71 L199.60,393.73 L199.80,394.75 L200.00,395.78 L200.20,396.81 L200.40,397.39 L200.60,397.52 L200.80,397.66 L201.00,397.80 L201.20,397.94 L201.40,398.09 L201.60,398.24 L201.80,398.40 L202.00,398.56 L202.20,398.73 L202.40,398.92 L202.60,399.11 L202.80,399.32 L203.00,399.56 L203.20,399.86 L203.20,400.12 Z M210.20,400.12 L210.20,399.82 L210.40,399.52 L210.60,399.22 L210.80,398.92 L211.00,398.62 L211.20,398.92 L211.40,399.22 L211.60,399.52 L211.80,399.82 L211.80,400.12 Z M212.20,400.12 L212.20,399.54 L212.40,399.15 L212.60,398.80 L212.80,398.48 L213.00,398.18 L213.20,397.90 L213.40,397.63 L213.60,397.63 L213.80,397.90 L214.00,398.18 L214.20,398.48 L214.40,398.80 L214.60,398.91 L214.80,398.75 L215.00,398.90 L215.20,398.51 L215.40,398.15 L215.60,397.81 L215.80,397.49 L216.00,397.18 L216.20,396.88 L216.40,396.59 L216.60,396.59 L216.80,396.88 L217.00,397.18 L217.20,397.49 L217.40,397.81 L217.60,398.15 L217.80,398.51 L218.00,398.90 L218.20,399.33 L218.20,400.12 Z " fill="#d4137a"/>
<line x1="43" y1="400.12" x2="237" y2="400.12" stroke="#d4137a" stroke-width="0.4" stroke-dasharray="0.8 6" opacity="0.35"/>
<path d="M48.00,417.51 L48.00,417.11 L48.20,416.88 L48.40,416.68 L48.60,416.50 L48.80,416.32 L49.00,416.16 L49.20,416.00 L49.40,415.85 L49.60,415.70 L49.80,415.55 L50.00,415.41 L50.20,415.55 L50.40,415.37 L50.60,415.22 L50.80,415.12 L51.00,415.05 L51.20,415.00 L51.40,414.97 L51.60,414.96 L51.80,414.98 L52.00,415.02 L52.20,415.13 L52.40,415.07 L52.60,415.07 L52.80,415.25 L53.00,415.42 L53.20,415.60 L53.40,415.79 L53.60,415.99 L53.80,416.19 L54.00,416.40 L54.20,416.63 L54.40,416.89 L54.60,417.18 L54.60,417.51 Z M65.20,417.51 L65.20,417.18 L65.40,417.07 L65.60,416.97 L65.80,416.88 L66.00,416.79 L66.20,416.70 L66.40,416.62 L66.60,416.54 L66.80,416.47 L67.00,416.39 L67.20,416.47 L67.40,416.54 L67.60,416.62 L67.80,416.70 L68.00,416.79 L68.20,416.88 L68.40,416.97 L68.60,417.07 L68.80,417.11 L69.00,417.08 L69.20,417.11 L69.40,417.07 L69.60,416.97 L69.80,416.88 L70.00,416.79 L70.20,416.70 L70.40,416.62 L70.60,416.54 L70.80,416.47 L71.00,416.39 L71.20,416.47 L71.40,416.54 L71.60,416.62 L71.80,416.64 L72.00,416.57 L72.20,416.54 L72.40,416.53 L72.60,416.53 L72.80,416.54 L73.00,416.57 L73.20,416.64 L73.40,416.62 L73.60,416.54 L73.80,416.47 L74.00,416.39 L74.20,416.47 L74.40,416.54 L74.60,416.62 L74.80,416.70 L75.00,416.79 L75.20,416.88 L75.40,416.97 L75.60,417.07 L75.80,417.18 L75.80,417.51 Z M85.00,417.51 L85.00,417.11 L85.20,416.88 L85.40,416.68 L85.60,416.50 L85.80,416.32 L86.00,416.16 L86.20,416.00 L86.40,415.85 L86.60,415.70 L86.80,415.55 L87.00,415.41 L87.20,415.55 L87.40,415.70 L87.60,415.85 L87.80,415.85 L88.00,415.65 L88.20,415.54 L88.40,415.46 L88.60,415.42 L88.80,415.40 L89.00,415.42 L89.20,415.50 L89.40,415.43 L89.60,415.24 L89.80,415.06 L90.00,414.88 L90.20,415.06 L90.40,415.24 L90.60,415.43 L90.80,415.46 L91.00,415.28 L91.20,415.19 L91.40,415.14 L91.60,415.13 L91.80,415.14 L92.00,415.20 L92.20,415.34 L92.40,415.29 L92.60,415.09 L92.80,414.90 L93.00,414.71 L93.20,414.90 L93.40,415.09 L93.60,415.29 L93.80,415.50 L94.00,415.71 L94.20,415.93 L94.40,416.16 L94.60,416.41 L94.80,416.67 L95.00,416.97 L95.00,417.51 Z M96.20,417.51 L96.20,417.10 L96.40,416.74 L96.60,416.43 L96.80,416.14 L97.00,415.88 L97.20,415.63 L97.40,415.38 L97.60,415.15 L97.80,414.93 L98.00,414.71 L98.20,414.93 L98.40,415.15 L98.60,415.38 L98.80,415.63 L99.00,415.88 L99.20,416.14 L99.40,415.58 L99.60,415.15 L99.80,414.87 L100.00,414.69 L100.20,414.14 L100.40,413.62 L100.60,413.13 L100.80,412.65 L101.00,412.19 L101.20,411.74 L101.40,412.12 L101.60,412.52 L101.80,412.93 L102.00,413.36 L102.20,413.79 L102.40,414.25 L102.60,414.51 L102.80,414.73 L103.00,415.05 L103.20,415.45 L103.40,416.03 L103.60,416.18 L103.80,416.00 L104.00,415.83 L104.20,416.00 L104.40,416.18 L104.60,416.36 L104.80,416.56 L105.00,416.77 L105.20,417.01 L105.20,417.51 Z M106.80,417.51 L106.80,417.18 L107.00,417.02 L107.20,416.88 L107.40,416.75 L107.60,416.62 L107.80,416.50 L108.00,416.39 L108.20,416.50 L108.40,416.62 L108.60,416.75 L108.80,416.88 L109.00,417.02 L109.20,417.18 L109.20,417.51 Z M110.80,417.51 L110.80,417.18 L111.00,417.02 L111.20,416.88 L111.40,416.75 L111.60,416.62 L111.80,416.50 L112.00,416.39 L112.20,416.50 L112.40,416.62 L112.60,416.75 L112.80,416.88 L113.00,417.02 L113.20,417.18 L113.20,417.51 Z M115.80,417.51 L115.80,417.18 L116.00,417.02 L116.20,416.88 L116.40,416.75 L116.60,416.62 L116.80,416.50 L117.00,416.39 L117.20,416.50 L117.40,416.62 L117.60,416.75 L117.80,416.88 L118.00,417.02 L118.20,417.18 L118.20,417.51 Z M120.80,417.51 L120.80,417.18 L121.00,417.02 L121.20,416.88 L121.40,416.75 L121.60,416.62 L121.80,416.50 L122.00,416.39 L122.20,416.50 L122.40,416.62 L122.60,416.75 L122.80,416.88 L123.00,417.02 L123.20,417.18 L123.20,417.51 Z M126.80,417.51 L126.80,417.18 L127.00,417.02 L127.20,416.88 L127.40,416.75 L127.60,416.62 L127.80,416.50 L128.00,416.39 L128.20,416.50 L128.40,416.62 L128.60,416.75 L128.80,416.88 L129.00,417.02 L129.20,417.18 L129.20,417.51 Z M133.80,417.51 L133.80,417.18 L134.00,417.02 L134.20,416.88 L134.40,416.75 L134.60,416.62 L134.80,416.50 L135.00,416.39 L135.20,416.50 L135.40,416.62 L135.60,416.75 L135.80,416.88 L136.00,417.02 L136.20,417.18 L136.20,417.51 Z M137.80,417.51 L137.80,417.18 L138.00,417.02 L138.20,416.88 L138.40,416.75 L138.60,416.62 L138.80,416.50 L139.00,416.39 L139.20,416.50 L139.40,416.62 L139.60,416.75 L139.80,416.88 L140.00,417.02 L140.20,417.18 L140.20,417.51 Z M142.40,417.51 L142.40,417.19 L142.60,416.97 L142.80,416.77 L143.00,416.60 L143.20,416.43 L143.40,416.27 L143.60,416.12 L143.80,415.97 L144.00,415.83 L144.20,415.97 L144.40,416.12 L144.60,416.27 L144.80,416.43 L145.00,416.60 L145.20,416.77 L145.40,416.97 L145.60,417.19 L145.60,417.51 Z M146.00,417.51 L146.00,417.07 L146.20,416.87 L146.40,416.68 L146.60,416.51 L146.80,416.35 L147.00,416.19 L147.20,416.04 L147.40,415.90 L147.60,415.90 L147.80,416.04 L148.00,416.19 L148.20,416.35 L148.40,416.51 L148.60,416.68 L148.80,416.87 L149.00,417.07 L149.00,417.51 Z M150.40,417.51 L150.40,417.24 L150.60,417.06 L150.80,416.90 L151.00,416.75 L151.20,416.61 L151.40,416.48 L151.60,416.35 L151.80,416.23 L152.00,416.11 L152.20,416.23 L152.40,416.35 L152.60,416.48 L152.80,416.61 L153.00,416.75 L153.20,416.90 L153.40,416.71 L153.60,416.65 L153.80,416.71 L154.00,416.52 L154.20,416.34 L154.40,416.17 L154.60,416.00 L154.80,415.84 L155.00,415.69 L155.20,415.84 L155.40,416.00 L155.60,416.17 L155.80,416.34 L156.00,416.52 L156.20,416.71 L156.40,416.92 L156.60,416.98 L156.80,417.09 L157.00,416.90 L157.20,416.72 L157.40,416.56 L157.60,416.40 L157.80,416.25 L158.00,416.11 L158.20,416.25 L158.40,416.40 L158.60,416.56 L158.80,416.72 L159.00,416.90 L159.20,415.72 L159.40,415.02 L159.60,414.39 L159.80,413.64 L160.00,412.93 L160.20,412.26 L160.40,412.79 L160.60,413.35 L160.80,413.93 L161.00,414.55 L161.20,415.21 L161.40,415.94 L161.60,416.64 L161.80,417.09 L162.00,416.90 L162.20,416.72 L162.40,416.56 L162.60,416.40 L162.80,416.25 L163.00,416.11 L163.20,416.25 L163.40,416.40 L163.60,416.56 L163.80,416.72 L164.00,416.90 L164.20,417.09 L164.20,417.51 Z M169.60,417.51 L169.60,417.10 L169.80,416.96 L170.00,416.82 L170.20,416.70 L170.40,416.58 L170.60,416.47 L170.80,416.36 L171.00,416.25 L171.20,416.36 L171.40,416.47 L171.60,416.58 L171.80,416.70 L172.00,416.82 L172.20,416.96 L172.40,416.86 L172.60,416.86 L172.80,416.96 L173.00,416.82 L173.20,416.70 L173.40,416.58 L173.60,416.47 L173.80,416.36 L174.00,416.25 L174.20,416.36 L174.40,416.47 L174.60,416.58 L174.80,416.70 L175.00,416.82 L175.20,416.96 L175.40,417.10 L175.40,417.51 Z M190.20,417.51 L190.20,416.99 L190.40,416.72 L190.60,416.51 L190.80,416.32 L191.00,416.14 L191.20,415.99 L191.40,415.84 L191.60,415.70 L191.80,415.57 L192.00,415.44 L192.20,415.32 L192.40,415.20 L192.60,415.09 L192.80,414.98 L193.00,414.87 L193.20,414.77 L193.40,414.67 L193.60,414.57 L193.80,414.47 L194.00,414.37 L194.20,414.28 L194.40,413.62 L194.60,412.40 L194.80,411.18 L195.00,409.96 L195.20,408.74 L195.40,407.52 L195.60,406.31 L195.80,405.09 L196.00,406.14 L196.20,407.34 L196.40,408.53 L196.60,409.73 L196.80,410.92 L197.00,412.12 L197.20,413.11 L197.40,413.55 L197.60,413.41 L197.80,413.28 L198.00,413.14 L198.20,413.01 L198.40,412.88 L198.60,412.75 L198.80,412.62 L199.00,412.49 L199.20,412.77 L199.40,413.04 L199.60,413.32 L199.80,413.59 L200.00,413.87 L200.20,414.15 L200.40,414.43 L200.60,414.72 L200.80,415.00 L201.00,415.29 L201.20,415.38 L201.40,415.47 L201.60,415.57 L201.80,415.67 L202.00,415.77 L202.20,415.88 L202.40,415.99 L202.60,416.10 L202.80,416.23 L203.00,416.36 L203.20,416.51 L203.40,416.66 L203.60,416.85 L203.80,417.07 L203.80,417.51 Z M212.80,417.51 L212.80,417.09 L213.00,416.90 L213.20,416.72 L213.40,416.56 L213.60,416.40 L213.80,416.25 L214.00,416.11 L214.20,416.25 L214.40,416.40 L214.60,416.56 L214.80,416.26 L215.00,415.86 L215.20,415.56 L215.40,415.36 L215.60,415.14 L215.80,414.75 L216.00,414.38 L216.20,414.03 L216.40,413.69 L216.60,413.69 L216.80,414.03 L217.00,414.38 L217.20,414.75 L217.40,415.14 L217.60,415.55 L217.80,415.98 L218.00,416.47 L218.20,417.05 L218.20,417.51 Z M224.20,417.51 L224.20,417.13 L224.40,416.92 L224.60,416.73 L224.80,416.55 L225.00,416.39 L225.20,416.55 L225.40,416.73 L225.60,416.92 L225.80,417.13 L225.80,417.51 Z M229.40,417.51 L229.40,417.11 L229.60,416.83 L229.80,416.59 L230.00,416.37 L230.20,416.16 L230.40,415.96 L230.60,415.77 L230.80,415.59 L231.00,415.41 L231.20,415.59 L231.40,415.77 L231.60,415.96 L231.80,416.16 L232.00,416.37 L232.20,416.59 L232.40,416.83 L232.60,417.11 L232.60,417.51 Z " fill="#d4137a"/>
<line x1="43" y1="417.51" x2="237" y2="417.51" stroke="#d4137a" stroke-width="0.4" stroke-dasharray="0.8 6" opacity="0.35"/>
<path d="M46.00,434.90 L46.00,434.36 L46.20,434.06 L46.40,433.80 L46.60,433.55 L46.80,433.32 L47.00,433.10 L47.20,432.89 L47.40,432.68 L47.60,432.48 L47.80,432.29 L48.00,432.10 L48.20,432.29 L48.40,432.48 L48.60,432.68 L48.80,432.89 L49.00,433.10 L49.20,433.32 L49.40,433.15 L49.60,433.12 L49.80,433.14 L50.00,433.22 L50.20,433.39 L50.40,433.35 L50.60,433.16 L50.80,432.98 L51.00,432.80 L51.20,432.98 L51.40,433.16 L51.60,433.35 L51.80,433.55 L52.00,433.76 L52.20,433.98 L52.40,434.22 L52.60,434.50 L52.60,434.90 Z M58.40,434.90 L58.40,434.47 L58.60,434.23 L58.80,434.02 L59.00,433.82 L59.20,433.64 L59.40,433.82 L59.60,434.02 L59.80,434.23 L60.00,434.47 L60.00,434.90 Z M69.20,434.90 L69.20,434.47 L69.40,434.23 L69.60,434.02 L69.80,433.82 L70.00,433.64 L70.20,433.82 L70.40,434.02 L70.60,434.23 L70.80,434.47 L70.80,434.90 Z M83.20,434.90 L83.20,434.47 L83.40,434.23 L83.60,434.02 L83.80,433.82 L84.00,433.64 L84.20,433.82 L84.40,434.02 L84.60,434.23 L84.80,434.47 L84.80,434.90 Z M87.00,434.90 L87.00,434.53 L87.20,434.29 L87.40,434.07 L87.60,433.87 L87.80,433.68 L88.00,433.50 L88.20,433.68 L88.40,433.87 L88.60,434.07 L88.80,434.29 L89.00,434.53 L89.00,434.90 Z M90.80,434.90 L90.80,434.40 L91.00,434.16 L91.20,433.95 L91.40,433.75 L91.60,433.57 L91.80,433.39 L92.00,433.22 L92.20,433.39 L92.40,433.57 L92.60,433.75 L92.80,433.95 L93.00,434.16 L93.20,434.40 L93.20,434.90 Z M93.60,434.90 L93.60,434.62 L93.80,434.27 L94.00,433.98 L94.20,433.71 L94.40,433.47 L94.60,433.24 L94.80,433.01 L95.00,432.80 L95.20,433.01 L95.40,433.24 L95.60,433.47 L95.80,433.71 L96.00,433.98 L96.20,434.27 L96.40,434.62 L96.40,434.90 Z M96.80,434.90 L96.80,434.40 L97.00,434.16 L97.20,433.95 L97.40,433.75 L97.60,433.57 L97.80,433.39 L98.00,433.22 L98.20,433.39 L98.40,433.57 L98.60,433.75 L98.80,433.95 L99.00,434.16 L99.20,434.40 L99.20,434.90 Z M100.60,434.90 L100.60,434.57 L100.80,434.15 L101.00,433.79 L101.20,433.48 L101.40,433.18 L101.60,432.90 L101.80,432.64 L102.00,432.38 L102.20,432.64 L102.40,432.90 L102.60,433.18 L102.80,433.48 L103.00,433.79 L103.20,434.15 L103.40,434.57 L103.40,434.90 Z M103.80,434.90 L103.80,434.40 L104.00,434.16 L104.20,433.95 L104.40,433.75 L104.60,433.57 L104.80,433.39 L105.00,433.22 L105.20,433.39 L105.40,433.57 L105.60,433.75 L105.80,433.95 L106.00,434.16 L106.20,434.40 L106.20,434.90 Z M108.60,434.90 L108.60,434.62 L108.80,434.27 L109.00,433.98 L109.20,433.71 L109.40,433.47 L109.60,433.24 L109.80,433.01 L110.00,432.80 L110.20,433.01 L110.40,433.24 L110.60,433.47 L110.80,433.71 L111.00,433.98 L111.20,434.27 L111.40,434.62 L111.40,434.90 Z M112.00,434.90 L112.00,434.22 L112.20,433.75 L112.40,433.34 L112.60,432.96 L112.80,432.61 L113.00,432.27 L113.20,432.61 L113.40,432.96 L113.60,433.34 L113.80,433.75 L114.00,434.22 L114.00,434.90 Z M116.00,434.90 L116.00,434.46 L116.20,434.16 L116.40,433.90 L116.60,433.66 L116.80,433.43 L117.00,433.22 L117.20,433.43 L117.40,433.66 L117.60,433.90 L117.80,434.16 L118.00,434.46 L118.00,434.90 Z M123.20,434.90 L123.20,434.52 L123.40,434.31 L123.60,434.12 L123.80,433.94 L124.00,433.78 L124.20,433.94 L124.40,434.12 L124.60,434.31 L124.80,434.52 L124.80,434.90 Z M127.20,434.90 L127.20,434.52 L127.40,434.31 L127.60,434.12 L127.80,433.94 L128.00,433.78 L128.20,433.94 L128.40,434.12 L128.60,434.31 L128.80,434.52 L128.80,434.90 Z M133.20,434.90 L133.20,434.52 L133.40,434.31 L133.60,434.12 L133.80,433.94 L134.00,433.78 L134.20,433.94 L134.40,434.12 L134.60,434.31 L134.80,434.52 L134.80,434.90 Z M138.00,434.90 L138.00,434.57 L138.20,434.35 L138.40,434.15 L138.60,433.97 L138.80,433.80 L139.00,433.64 L139.20,433.80 L139.40,433.97 L139.60,434.15 L139.80,434.35 L140.00,434.57 L140.00,434.90 Z M145.00,434.90 L145.00,434.57 L145.20,434.35 L145.40,434.15 L145.60,433.97 L145.80,433.80 L146.00,433.64 L146.20,433.80 L146.40,433.97 L146.60,434.15 L146.80,434.35 L147.00,434.57 L147.00,434.90 Z M152.00,434.90 L152.00,434.57 L152.20,434.35 L152.40,434.15 L152.60,433.97 L152.80,433.80 L153.00,433.64 L153.20,433.80 L153.40,433.97 L153.60,434.15 L153.80,434.35 L154.00,434.57 L154.00,434.90 Z M155.80,434.90 L155.80,434.40 L156.00,434.16 L156.20,433.95 L156.40,433.75 L156.60,433.57 L156.80,433.39 L157.00,433.22 L157.20,433.39 L157.40,433.57 L157.60,433.75 L157.80,433.95 L158.00,434.16 L158.20,434.40 L158.20,434.90 Z M158.80,434.90 L158.80,434.40 L159.00,434.16 L159.20,433.95 L159.40,433.75 L159.60,433.57 L159.80,433.39 L160.00,433.22 L160.20,433.39 L160.40,433.57 L160.60,433.75 L160.80,433.95 L161.00,434.16 L161.20,434.40 L161.20,434.90 Z M162.00,434.90 L162.00,434.53 L162.20,434.29 L162.40,434.07 L162.60,433.87 L162.80,433.68 L163.00,433.50 L163.20,433.68 L163.40,433.87 L163.60,434.07 L163.80,434.29 L164.00,434.53 L164.00,434.90 Z M171.20,434.90 L171.20,434.52 L171.40,434.31 L171.60,434.12 L171.80,433.94 L172.00,433.78 L172.20,433.94 L172.40,434.12 L172.60,434.31 L172.80,434.52 L172.80,434.90 Z M193.20,434.90 L193.20,434.51 L193.40,434.31 L193.60,434.15 L193.80,434.00 L194.00,433.88 L194.20,433.76 L194.40,433.65 L194.60,433.54 L194.80,433.44 L195.00,433.35 L195.20,433.26 L195.40,433.17 L195.60,433.08 L195.80,433.00 L196.00,432.92 L196.20,432.84 L196.40,432.77 L196.60,432.69 L196.80,432.62 L197.00,432.55 L197.20,430.94 L197.40,429.33 L197.60,427.73 L197.80,426.12 L198.00,424.52 L198.20,422.92 L198.40,422.75 L198.60,424.02 L198.80,425.29 L199.00,426.57 L199.20,427.95 L199.40,429.34 L199.60,430.72 L199.80,432.11 L200.00,432.17 L200.20,432.22 L200.40,432.28 L200.60,432.33 L200.80,432.39 L201.00,431.95 L201.20,431.01 L201.40,430.07 L201.60,429.13 L201.80,428.19 L202.00,428.09 L202.20,428.82 L202.40,429.55 L202.60,430.29 L202.80,431.02 L203.00,431.76 L203.20,432.50 L203.40,433.24 L203.60,433.32 L203.80,433.40 L204.00,433.49 L204.20,433.57 L204.40,433.66 L204.60,433.76 L204.80,433.86 L205.00,433.97 L205.20,434.08 L205.40,434.21 L205.60,434.36 L205.80,434.54 L205.80,434.90 Z M207.80,434.90 L207.80,434.45 L208.00,434.15 L208.20,433.85 L208.40,433.55 L208.60,433.55 L208.80,433.85 L209.00,434.15 L209.20,434.45 L209.20,434.90 Z M214.60,434.90 L214.60,434.53 L214.80,434.05 L215.00,433.66 L215.20,433.30 L215.40,432.97 L215.60,432.65 L215.80,432.35 L216.00,432.06 L216.20,432.30 L216.40,432.55 L216.60,432.81 L216.80,433.08 L217.00,433.36 L217.20,433.66 L217.40,433.98 L217.60,434.35 L217.60,434.90 Z M231.40,434.90 L231.40,434.50 L231.60,434.32 L231.80,434.15 L232.00,434.00 L232.20,433.85 L232.40,433.85 L232.60,434.00 L232.80,434.15 L233.00,434.32 L233.20,434.50 L233.20,434.90 Z " fill="#d4137a"/>
<line x1="43" y1="434.90" x2="237" y2="434.90" stroke="#d4137a" stroke-width="0.4" stroke-dasharray="0.8 6" opacity="0.35"/>
<line x1="190.40" y1="244.50" x2="234.90" y2="244.50" stroke="#222" stroke-width="0.9"/>
<text transform="translate(213.70,242.44) scale(1,1.12)" font-size="8" text-anchor="middle" fill="#1c1c1c" color="#1c1c1c">2kb</text>
<text transform="translate(241.70,253.93) scale(1,1.12)" font-size="8.5" fill="#1c1c1c" color="#1c1c1c">HPC5<tspan font-size="6.6" dy="-2.7">+/+</tspan></text>
<text transform="translate(258.00,263.81) scale(1,1.12)" font-size="8.2" text-anchor="middle" fill="#1c1c1c" color="#1c1c1c">cells</text>
<line x1="243.40" y1="267.90" x2="243.40" y2="434.80" stroke="#333" stroke-width="0.9"/>
<text transform="translate(258.20,349.89) scale(1,1.12)" font-size="8.4" text-anchor="middle" fill="#1c1c1c" color="#1c1c1c">HPC7</text>
<text transform="translate(258.20,359.91) scale(1,1.12)" font-size="8.2" text-anchor="middle" fill="#1c1c1c" color="#1c1c1c">cells</text>
<line x1="42.00" y1="443.80" x2="103.50" y2="443.80" stroke="#222" stroke-width="0.8"/>
<line x1="103.30" y1="441.60" x2="103.30" y2="445.90" stroke="#222" stroke-width="1.3"/>
<line x1="76.50" y1="441.50" x2="76.50" y2="446.10" stroke="#222" stroke-width="1.3"/>
<line x1="83.30" y1="442.00" x2="83.30" y2="445.60" stroke="#222" stroke-width="0.8"/>
<text transform="translate(106.80,447.34) scale(1,1.12)" font-size="8" font-style="italic" fill="#1c1c1c" color="#1c1c1c" letter-spacing="0.25">Il10ra</text>
<text transform="translate(289.80,233.72) scale(1,1.0)" font-size="11.5" font-weight="bold" fill="#111" color="#111">E</text>
<text transform="translate(334.25,243.34) scale(1,1.12)" font-size="8" text-anchor="middle" fill="#1c1c1c" color="#1c1c1c">PU.1</text>
<rect x="315.40" y="248.40" width="37.70" height="30.50" fill="#fff" stroke="#222" stroke-width="0.9"/>
<line x1="312.20" y1="251.20" x2="315.40" y2="251.20" stroke="#222" stroke-width="0.8"/>
<text transform="translate(309.60,254.34) scale(1,1.12)" font-size="8" text-anchor="end" fill="#1c1c1c" color="#1c1c1c">1.5</text>
<line x1="312.20" y1="261.40" x2="315.40" y2="261.40" stroke="#222" stroke-width="0.8"/>
<text transform="translate(309.60,264.54) scale(1,1.12)" font-size="8" text-anchor="end" fill="#1c1c1c" color="#1c1c1c">1.0</text>
<line x1="312.20" y1="271.30" x2="315.40" y2="271.30" stroke="#222" stroke-width="0.8"/>
<text transform="translate(309.60,274.44) scale(1,1.12)" font-size="8" text-anchor="end" fill="#1c1c1c" color="#1c1c1c">0.5</text>
<line x1="315.40" y1="278.90" x2="315.40" y2="281.60" stroke="#222" stroke-width="0.8"/>
<line x1="334.25" y1="278.90" x2="334.25" y2="281.60" stroke="#222" stroke-width="0.8"/>
<line x1="353.10" y1="278.90" x2="353.10" y2="281.60" stroke="#222" stroke-width="0.8"/>
<polyline points="315.70,276.82 316.01,277.46 316.32,277.38 316.63,276.92 316.94,277.14 317.25,277.09 317.56,277.27 317.86,277.39 318.17,276.77 318.48,276.70 318.79,277.43 319.10,277.06 319.41,277.36 319.72,276.67 320.03,277.06 320.34,277.31 320.65,276.86 320.96,277.50 321.26,277.46 321.57,276.67 321.88,276.66 322.19,277.12 322.50,277.47 322.81,276.96 323.12,276.80 323.43,276.98 323.74,276.62 324.05,276.78 324.36,276.97 324.67,277.01 324.98,276.76 325.28,276.74 325.59,276.72 325.90,276.92 326.21,276.75 326.52,276.49 326.83,277.20 327.14,276.92 327.45,276.97 327.76,276.53 328.07,277.22 328.38,277.05 328.69,276.34 328.99,276.48 329.30,276.76 329.61,276.68 329.92,276.79 330.23,276.22 330.54,276.46 330.85,276.16 331.16,275.65 331.47,275.67 331.78,275.64 332.09,275.22 332.39,274.41 332.70,273.77 333.01,272.20 333.32,270.54 333.63,267.30 333.94,258.50 334.25,249.11 334.56,258.62 334.87,267.21 335.18,270.93 335.49,272.51 335.80,273.64 336.11,274.41 336.41,275.16 336.72,275.31 337.03,275.49 337.34,275.81 337.65,275.59 337.96,275.75 338.27,276.48 338.58,276.83 338.89,276.57 339.20,276.47 339.51,276.33 339.81,276.68 340.12,277.16 340.43,277.02 340.74,276.84 341.05,277.17 341.36,276.63 341.67,276.91 341.98,277.32 342.29,277.01 342.60,276.92 342.91,276.76 343.22,277.03 343.53,277.41 343.83,276.57 344.14,277.28 344.45,277.32 344.76,277.39 345.07,277.27 345.38,277.34 345.69,277.08 346.00,277.13 346.31,277.01 346.62,276.69 346.93,277.42 347.24,277.16 347.54,276.83 347.85,277.11 348.16,277.10 348.47,276.98 348.78,276.98 349.09,277.15 349.40,277.23 349.71,277.23 350.02,277.09 350.33,276.71 350.64,276.89 350.95,276.85 351.25,277.21 351.56,277.47 351.87,277.41 352.18,277.41 352.49,277.43 352.80,276.93" fill="none" stroke="#1f3a66" stroke-width="1.15" stroke-linejoin="round"/>
<polyline points="315.70,276.82 316.01,277.46 316.32,277.38 316.63,276.92 316.94,277.14 317.25,277.09 317.56,277.27 317.86,277.39 318.17,276.77 318.48,276.70 318.79,277.43 319.10,277.06 319.41,277.36 319.72,276.67 320.03,277.06 320.34,277.31 320.65,276.86 320.96,277.50 321.26,277.46 321.57,276.67 321.88,276.66 322.19,277.12 322.50,277.47 322.81,276.96 323.12,276.80 323.43,276.98 323.74,276.62 324.05,276.78 324.36,276.97 324.67,277.01 324.98,276.76 325.28,276.74 325.59,276.72 325.90,276.92 326.21,276.75 326.52,276.49 326.83,277.20 327.14,276.92 327.45,276.97 327.76,276.53 328.07,277.22 328.38,277.05 328.69,276.34 328.99,276.48 329.30,276.76 329.61,276.68 329.92,276.79 330.23,276.22 330.54,276.46 330.85,276.16 331.16,275.65 331.47,275.67 331.78,275.64 332.09,275.22 332.39,274.41 332.70,273.77 333.01,272.20 333.32,270.54 333.63,267.30 333.94,258.50 334.25,249.11 334.56,258.62 334.87,267.21 335.18,270.93 335.49,272.51 335.80,273.64 336.11,274.41 336.41,275.16 336.72,275.31 337.03,275.49 337.34,275.81 337.65,275.59 337.96,275.75 338.27,276.48 338.58,276.83 338.89,276.57 339.20,276.47 339.51,276.33 339.81,276.68 340.12,277.16 340.43,277.02 340.74,276.84 341.05,277.17 341.36,276.63 341.67,276.91 341.98,277.32 342.29,277.01 342.60,276.92 342.91,276.76 343.22,277.03 343.53,277.41 343.83,276.57 344.14,277.28 344.45,277.32 344.76,277.39 345.07,277.27 345.38,277.34 345.69,277.08 346.00,277.13 346.31,277.01 346.62,276.69 346.93,277.42 347.24,277.16 347.54,276.83 347.85,277.11 348.16,277.10 348.47,276.98 348.78,276.98 349.09,277.15 349.40,277.23 349.71,277.23 350.02,277.09 350.33,276.71 350.64,276.89 350.95,276.85 351.25,277.21 351.56,277.47 351.87,277.41 352.18,277.41 352.49,277.43 352.80,276.93" fill="none" stroke="#a8c2e0" stroke-width="0.35" stroke-linejoin="round"/>
<rect x="315.40" y="286.10" width="37.70" height="35.20" fill="url(#ePU)" stroke="none" stroke-width="0.8"/>
<rect x="315.40" y="286.10" width="37.70" height="35.20" fill="#fff" stroke="none" stroke-width="0.8" filter="url(#noise)" opacity="0.22"/>
<g clip-path="url(#clip1)"><path d="M331.85,286.1 L336.65,286.1 L335.53,321.3 L332.97,321.3 Z" fill="#f07a48" opacity="0.6" filter="url(#blur05)"/>
<path d="M332.75,286.1 L335.75,286.1 L335.05,321.3 L333.45,321.3 Z" fill="url(#sPU)" filter="url(#blur05)"/></g>
<rect x="315.40" y="286.10" width="37.70" height="35.20" fill="none" stroke="#2a0a05" stroke-width="0.9"/>
<line x1="315.40" y1="321.30" x2="315.40" y2="323.90" stroke="#222" stroke-width="0.8"/>
<line x1="334.25" y1="321.30" x2="334.25" y2="323.90" stroke="#222" stroke-width="0.8"/>
<line x1="353.10" y1="321.30" x2="353.10" y2="323.90" stroke="#222" stroke-width="0.8"/>
<text transform="translate(310.20,335.45) scale(1,1.12)" font-size="8.3" text-anchor="middle" fill="#1c1c1c" color="#1c1c1c">−10kb</text>
<text transform="translate(334.25,335.45) scale(1,1.12)" font-size="8.3" text-anchor="middle" fill="#1c1c1c" color="#1c1c1c">NFIX</text>
<text transform="translate(355.50,335.45) scale(1,1.12)" font-size="8.3" text-anchor="middle" fill="#1c1c1c" color="#1c1c1c">10kb</text>
<text transform="translate(415.70,243.34) scale(1,1.12)" font-size="8" text-anchor="middle" fill="#1c1c1c" color="#1c1c1c">RUNX1</text>
<rect x="396.60" y="248.40" width="38.20" height="30.50" fill="#fff" stroke="#222" stroke-width="0.9"/>
<line x1="393.40" y1="250.00" x2="396.60" y2="250.00" stroke="#222" stroke-width="0.8"/>
<text transform="translate(390.80,253.14) scale(1,1.12)" font-size="8" text-anchor="end" fill="#1c1c1c" color="#1c1c1c">0.8</text>
<line x1="393.40" y1="259.30" x2="396.60" y2="259.30" stroke="#222" stroke-width="0.8"/>
<text transform="translate(390.80,262.44) scale(1,1.12)" font-size="8" text-anchor="end" fill="#1c1c1c" color="#1c1c1c">0.6</text>
<line x1="393.40" y1="268.60" x2="396.60" y2="268.60" stroke="#222" stroke-width="0.8"/>
<text transform="translate(390.80,271.74) scale(1,1.12)" font-size="8" text-anchor="end" fill="#1c1c1c" color="#1c1c1c">0.4</text>
<line x1="393.40" y1="277.80" x2="396.60" y2="277.80" stroke="#222" stroke-width="0.8"/>
<text transform="translate(390.80,280.94) scale(1,1.12)" font-size="8" text-anchor="end" fill="#1c1c1c" color="#1c1c1c">0.2</text>
<line x1="396.60" y1="278.90" x2="396.60" y2="281.60" stroke="#222" stroke-width="0.8"/>
<line x1="415.70" y1="278.90" x2="415.70" y2="281.60" stroke="#222" stroke-width="0.8"/>
<line x1="434.80" y1="278.90" x2="434.80" y2="281.60" stroke="#222" stroke-width="0.8"/>
<polyline points="396.90,277.33 397.21,277.32 397.53,276.52 397.84,276.54 398.15,277.21 398.47,277.12 398.78,277.06 399.09,276.73 399.41,276.99 399.72,276.99 400.03,276.96 400.35,276.58 400.66,276.82 400.97,276.78 401.29,277.07 401.60,277.31 401.91,277.26 402.23,276.89 402.54,276.80 402.85,276.63 403.17,276.41 403.48,276.40 403.79,276.78 404.11,276.64 404.42,276.68 404.73,277.13 405.05,276.79 405.36,276.81 405.67,276.50 405.99,276.30 406.30,276.55 406.61,276.36 406.93,276.68 407.24,277.09 407.55,276.77 407.87,276.30 408.18,276.91 408.49,276.79 408.81,276.69 409.12,276.80 409.43,276.62 409.75,276.59 410.06,276.13 410.37,276.61 410.69,276.51 411.00,275.69 411.31,276.10 411.63,275.93 411.94,275.54 412.25,275.40 412.57,275.13 412.88,275.24 413.19,274.52 413.51,274.40 413.82,273.44 414.13,273.22 414.45,272.26 414.76,270.27 415.07,267.19 415.39,259.85 415.70,250.20 416.01,259.46 416.33,266.87 416.64,270.15 416.95,272.08 417.27,272.58 417.58,273.94 417.89,273.89 418.21,274.89 418.52,274.69 418.83,275.55 419.15,275.56 419.46,275.57 419.77,275.75 420.09,276.01 420.40,276.07 420.71,275.92 421.03,275.92 421.34,276.27 421.65,276.72 421.97,276.49 422.28,276.05 422.59,276.77 422.91,276.72 423.22,276.92 423.53,276.31 423.85,276.84 424.16,276.25 424.47,276.80 424.79,276.48 425.10,276.46 425.41,277.06 425.73,276.39 426.04,276.78 426.35,277.09 426.67,276.55 426.98,276.53 427.29,277.15 427.61,276.74 427.92,277.02 428.23,276.41 428.55,276.72 428.86,276.55 429.17,277.01 429.49,276.48 429.80,277.27 430.11,276.44 430.43,277.08 430.74,276.45 431.05,276.67 431.37,277.17 431.68,276.59 431.99,276.61 432.31,277.07 432.62,276.80 432.93,276.50 433.25,277.35 433.56,276.60 433.87,276.50 434.19,276.78 434.50,277.03" fill="none" stroke="#1f3a66" stroke-width="1.15" stroke-linejoin="round"/>
<polyline points="396.90,277.33 397.21,277.32 397.53,276.52 397.84,276.54 398.15,277.21 398.47,277.12 398.78,277.06 399.09,276.73 399.41,276.99 399.72,276.99 400.03,276.96 400.35,276.58 400.66,276.82 400.97,276.78 401.29,277.07 401.60,277.31 401.91,277.26 402.23,276.89 402.54,276.80 402.85,276.63 403.17,276.41 403.48,276.40 403.79,276.78 404.11,276.64 404.42,276.68 404.73,277.13 405.05,276.79 405.36,276.81 405.67,276.50 405.99,276.30 406.30,276.55 406.61,276.36 406.93,276.68 407.24,277.09 407.55,276.77 407.87,276.30 408.18,276.91 408.49,276.79 408.81,276.69 409.12,276.80 409.43,276.62 409.75,276.59 410.06,276.13 410.37,276.61 410.69,276.51 411.00,275.69 411.31,276.10 411.63,275.93 411.94,275.54 412.25,275.40 412.57,275.13 412.88,275.24 413.19,274.52 413.51,274.40 413.82,273.44 414.13,273.22 414.45,272.26 414.76,270.27 415.07,267.19 415.39,259.85 415.70,250.20 416.01,259.46 416.33,266.87 416.64,270.15 416.95,272.08 417.27,272.58 417.58,273.94 417.89,273.89 418.21,274.89 418.52,274.69 418.83,275.55 419.15,275.56 419.46,275.57 419.77,275.75 420.09,276.01 420.40,276.07 420.71,275.92 421.03,275.92 421.34,276.27 421.65,276.72 421.97,276.49 422.28,276.05 422.59,276.77 422.91,276.72 423.22,276.92 423.53,276.31 423.85,276.84 424.16,276.25 424.47,276.80 424.79,276.48 425.10,276.46 425.41,277.06 425.73,276.39 426.04,276.78 426.35,277.09 426.67,276.55 426.98,276.53 427.29,277.15 427.61,276.74 427.92,277.02 428.23,276.41 428.55,276.72 428.86,276.55 429.17,277.01 429.49,276.48 429.80,277.27 430.11,276.44 430.43,277.08 430.74,276.45 431.05,276.67 431.37,277.17 431.68,276.59 431.99,276.61 432.31,277.07 432.62,276.80 432.93,276.50 433.25,277.35 433.56,276.60 433.87,276.50 434.19,276.78 434.50,277.03" fill="none" stroke="#a8c2e0" stroke-width="0.35" stroke-linejoin="round"/>
<rect x="396.60" y="286.10" width="38.20" height="35.20" fill="url(#eRX)" stroke="none" stroke-width="0.8"/>
<rect x="396.60" y="286.10" width="38.20" height="35.20" fill="#fff" stroke="none" stroke-width="0.8" filter="url(#noise)" opacity="0.3"/>
<g clip-path="url(#clip2)"><path d="M413.46,286.1 L417.94,286.1 L416.98,321.3 L414.42,321.3 Z" fill="#f07a48" opacity="0.6" filter="url(#blur05)"/>
<path d="M414.30,286.1 L417.10,286.1 L416.50,321.3 L414.90,321.3 Z" fill="url(#sRX)" filter="url(#blur05)"/></g>
<rect x="396.60" y="286.10" width="38.20" height="35.20" fill="none" stroke="#2a0a05" stroke-width="0.9"/>
<line x1="396.60" y1="321.30" x2="396.60" y2="323.90" stroke="#222" stroke-width="0.8"/>
<line x1="415.70" y1="321.30" x2="415.70" y2="323.90" stroke="#222" stroke-width="0.8"/>
<line x1="434.80" y1="321.30" x2="434.80" y2="323.90" stroke="#222" stroke-width="0.8"/>
<text transform="translate(391.40,335.45) scale(1,1.12)" font-size="8.3" text-anchor="middle" fill="#1c1c1c" color="#1c1c1c">−10kb</text>
<text transform="translate(415.70,335.45) scale(1,1.12)" font-size="8.3" text-anchor="middle" fill="#1c1c1c" color="#1c1c1c">NFIX</text>
<text transform="translate(437.20,335.45) scale(1,1.12)" font-size="8.3" text-anchor="middle" fill="#1c1c1c" color="#1c1c1c">10kb</text>
<text transform="translate(334.25,351.94) scale(1,1.12)" font-size="8" text-anchor="middle" fill="#1c1c1c" color="#1c1c1c">STAT3</text>
<rect x="315.40" y="357.00" width="37.70" height="30.00" fill="#fff" stroke="#222" stroke-width="0.9"/>
<line x1="312.20" y1="363.20" x2="315.40" y2="363.20" stroke="#222" stroke-width="0.8"/>
<text transform="translate(309.60,366.34) scale(1,1.12)" font-size="8" text-anchor="end" fill="#1c1c1c" color="#1c1c1c">4</text>
<line x1="312.20" y1="370.40" x2="315.40" y2="370.40" stroke="#222" stroke-width="0.8"/>
<text transform="translate(309.60,373.54) scale(1,1.12)" font-size="8" text-anchor="end" fill="#1c1c1c" color="#1c1c1c">3</text>
<line x1="312.20" y1="377.70" x2="315.40" y2="377.70" stroke="#222" stroke-width="0.8"/>
<text transform="translate(309.60,380.84) scale(1,1.12)" font-size="8" text-anchor="end" fill="#1c1c1c" color="#1c1c1c">2</text>
<line x1="312.20" y1="384.60" x2="315.40" y2="384.60" stroke="#222" stroke-width="0.8"/>
<text transform="translate(309.60,387.74) scale(1,1.12)" font-size="8" text-anchor="end" fill="#1c1c1c" color="#1c1c1c">1</text>
<line x1="315.40" y1="387.00" x2="315.40" y2="389.70" stroke="#222" stroke-width="0.8"/>
<line x1="334.25" y1="387.00" x2="334.25" y2="389.70" stroke="#222" stroke-width="0.8"/>
<line x1="353.10" y1="387.00" x2="353.10" y2="389.70" stroke="#222" stroke-width="0.8"/>
<polyline points="315.70,385.39 316.01,385.54 316.32,385.45 316.63,385.56 316.94,385.57 317.25,385.29 317.56,385.26 317.86,385.67 318.17,385.37 318.48,385.36 318.79,385.73 319.10,385.47 319.41,385.64 319.72,385.46 320.03,385.54 320.34,385.29 320.65,385.52 320.96,385.63 321.26,385.45 321.57,385.55 321.88,385.51 322.19,385.20 322.50,385.53 322.81,385.44 323.12,385.28 323.43,385.14 323.74,385.54 324.05,385.33 324.36,385.44 324.67,385.50 324.98,385.40 325.28,385.48 325.59,385.20 325.90,385.38 326.21,385.17 326.52,385.39 326.83,385.32 327.14,384.89 327.45,384.87 327.76,384.86 328.07,385.18 328.38,384.85 328.69,384.88 328.99,384.63 329.30,384.63 329.61,384.46 329.92,384.31 330.23,384.27 330.54,384.07 330.85,384.00 331.16,383.60 331.47,383.37 331.78,382.87 332.09,382.34 332.39,381.36 332.70,379.94 333.01,378.52 333.32,375.72 333.63,370.90 333.94,363.75 334.25,359.41 334.56,363.57 334.87,370.86 335.18,375.52 335.49,378.23 335.80,379.89 336.11,381.45 336.41,382.34 336.72,382.49 337.03,383.30 337.34,383.47 337.65,383.62 337.96,383.93 338.27,384.36 338.58,384.57 338.89,384.29 339.20,384.69 339.51,384.50 339.81,384.92 340.12,384.80 340.43,385.14 340.74,385.24 341.05,385.05 341.36,385.34 341.67,385.04 341.98,384.96 342.29,385.25 342.60,384.99 342.91,385.10 343.22,385.23 343.53,385.35 343.83,385.14 344.14,385.10 344.45,385.53 344.76,385.27 345.07,385.60 345.38,385.58 345.69,385.33 346.00,385.39 346.31,385.43 346.62,385.50 346.93,385.48 347.24,385.47 347.54,385.51 347.85,385.67 348.16,385.46 348.47,385.43 348.78,385.58 349.09,385.35 349.40,385.38 349.71,385.73 350.02,385.50 350.33,385.52 350.64,385.25 350.95,385.46 351.25,385.55 351.56,385.27 351.87,385.57 352.18,385.58 352.49,385.30 352.80,385.58" fill="none" stroke="#4f72a6" stroke-width="1.1" stroke-linejoin="round"/>
<polyline points="315.70,385.39 316.01,385.54 316.32,385.45 316.63,385.56 316.94,385.57 317.25,385.29 317.56,385.26 317.86,385.67 318.17,385.37 318.48,385.36 318.79,385.73 319.10,385.47 319.41,385.64 319.72,385.46 320.03,385.54 320.34,385.29 320.65,385.52 320.96,385.63 321.26,385.45 321.57,385.55 321.88,385.51 322.19,385.20 322.50,385.53 322.81,385.44 323.12,385.28 323.43,385.14 323.74,385.54 324.05,385.33 324.36,385.44 324.67,385.50 324.98,385.40 325.28,385.48 325.59,385.20 325.90,385.38 326.21,385.17 326.52,385.39 326.83,385.32 327.14,384.89 327.45,384.87 327.76,384.86 328.07,385.18 328.38,384.85 328.69,384.88 328.99,384.63 329.30,384.63 329.61,384.46 329.92,384.31 330.23,384.27 330.54,384.07 330.85,384.00 331.16,383.60 331.47,383.37 331.78,382.87 332.09,382.34 332.39,381.36 332.70,379.94 333.01,378.52 333.32,375.72 333.63,370.90 333.94,363.75 334.25,359.41 334.56,363.57 334.87,370.86 335.18,375.52 335.49,378.23 335.80,379.89 336.11,381.45 336.41,382.34 336.72,382.49 337.03,383.30 337.34,383.47 337.65,383.62 337.96,383.93 338.27,384.36 338.58,384.57 338.89,384.29 339.20,384.69 339.51,384.50 339.81,384.92 340.12,384.80 340.43,385.14 340.74,385.24 341.05,385.05 341.36,385.34 341.67,385.04 341.98,384.96 342.29,385.25 342.60,384.99 342.91,385.10 343.22,385.23 343.53,385.35 343.83,385.14 344.14,385.10 344.45,385.53 344.76,385.27 345.07,385.60 345.38,385.58 345.69,385.33 346.00,385.39 346.31,385.43 346.62,385.50 346.93,385.48 347.24,385.47 347.54,385.51 347.85,385.67 348.16,385.46 348.47,385.43 348.78,385.58 349.09,385.35 349.40,385.38 349.71,385.73 350.02,385.50 350.33,385.52 350.64,385.25 350.95,385.46 351.25,385.55 351.56,385.27 351.87,385.57 352.18,385.58 352.49,385.30 352.80,385.58" fill="none" stroke="#b8cde6" stroke-width="0.35" stroke-linejoin="round"/>
<rect x="315.40" y="396.20" width="37.70" height="35.30" fill="url(#eST)" stroke="none" stroke-width="0.8"/>
<rect x="315.40" y="396.20" width="37.70" height="35.30" fill="#fff" stroke="none" stroke-width="0.8" filter="url(#noise)" opacity="0.22"/>
<g clip-path="url(#clip3)"><path d="M330.73,396.2 L337.77,396.2 L335.85,431.5 L332.65,431.5 Z" fill="#f07a48" opacity="0.6" filter="url(#blur05)"/>
<path d="M332.05,396.2 L336.45,396.2 L335.25,431.5 L333.25,431.5 Z" fill="url(#sST)" filter="url(#blur05)"/></g>
<rect x="315.40" y="396.20" width="37.70" height="35.30" fill="none" stroke="#2a0a05" stroke-width="0.9"/>
<line x1="315.40" y1="431.50" x2="315.40" y2="434.10" stroke="#222" stroke-width="0.8"/>
<line x1="334.25" y1="431.50" x2="334.25" y2="434.10" stroke="#222" stroke-width="0.8"/>
<line x1="353.10" y1="431.50" x2="353.10" y2="434.10" stroke="#222" stroke-width="0.8"/>
<text transform="translate(310.20,445.85) scale(1,1.12)" font-size="8.3" text-anchor="middle" fill="#1c1c1c" color="#1c1c1c">−10kb</text>
<text transform="translate(334.25,445.85) scale(1,1.12)" font-size="8.3" text-anchor="middle" fill="#1c1c1c" color="#1c1c1c">NFIX</text>
<text transform="translate(355.50,445.85) scale(1,1.12)" font-size="8.3" text-anchor="middle" fill="#1c1c1c" color="#1c1c1c">10kb</text>
<text transform="translate(415.70,351.94) scale(1,1.12)" font-size="8" text-anchor="middle" fill="#1c1c1c" color="#1c1c1c">NFE2</text>
<rect x="396.60" y="357.00" width="38.20" height="30.00" fill="#fff" stroke="#222" stroke-width="0.9"/>
<line x1="393.40" y1="365.80" x2="396.60" y2="365.80" stroke="#222" stroke-width="0.8"/>
<text transform="translate(390.80,368.94) scale(1,1.12)" font-size="8" text-anchor="end" fill="#1c1c1c" color="#1c1c1c">1.2</text>
<line x1="393.40" y1="377.70" x2="396.60" y2="377.70" stroke="#222" stroke-width="0.8"/>
<text transform="translate(390.80,380.84) scale(1,1.12)" font-size="8" text-anchor="end" fill="#1c1c1c" color="#1c1c1c">1</text>
<line x1="396.60" y1="387.00" x2="396.60" y2="389.70" stroke="#222" stroke-width="0.8"/>
<line x1="415.70" y1="387.00" x2="415.70" y2="389.70" stroke="#222" stroke-width="0.8"/>
<line x1="434.80" y1="387.00" x2="434.80" y2="389.70" stroke="#222" stroke-width="0.8"/>
<polyline points="396.90,381.71 397.21,381.42 397.53,382.06 397.84,381.53 398.15,381.33 398.47,382.07 398.78,383.21 399.09,382.95 399.41,382.87 399.72,381.67 400.03,382.36 400.35,381.79 400.66,381.56 400.97,381.42 401.29,381.65 401.60,383.22 401.91,383.00 402.23,382.95 402.54,382.94 402.85,381.60 403.17,381.86 403.48,382.55 403.79,382.78 404.11,383.05 404.42,383.10 404.73,381.36 405.05,382.50 405.36,382.64 405.67,382.27 405.99,381.55 406.30,382.20 406.61,381.35 406.93,383.20 407.24,383.05 407.55,382.34 407.87,381.80 408.18,383.13 408.49,382.38 408.81,383.06 409.12,382.97 409.43,382.22 409.75,382.00 410.06,382.39 410.37,382.01 410.69,381.40 411.00,381.69 411.31,382.78 411.63,381.06 411.94,381.02 412.25,382.24 412.57,381.41 412.88,381.88 413.19,381.61 413.51,381.15 413.82,382.31 414.13,380.10 414.45,379.80 414.76,377.83 415.07,375.46 415.39,366.88 415.70,358.48 416.01,367.91 416.33,374.77 416.64,378.62 416.95,380.88 417.27,379.89 417.58,380.25 417.89,380.90 418.21,382.26 418.52,382.06 418.83,381.32 419.15,381.59 419.46,381.31 419.77,381.97 420.09,381.09 420.40,382.55 420.71,383.01 421.03,383.16 421.34,382.69 421.65,383.20 421.97,381.14 422.28,381.74 422.59,383.24 422.91,382.83 423.22,382.03 423.53,383.21 423.85,382.50 424.16,382.94 424.47,381.79 424.79,381.57 425.10,382.13 425.41,381.46 425.73,382.00 426.04,383.28 426.35,381.89 426.67,381.19 426.98,381.27 427.29,381.54 427.61,382.90 427.92,381.97 428.23,381.81 428.55,381.39 428.86,383.34 429.17,382.11 429.49,381.64 429.80,381.31 430.11,381.30 430.43,381.55 430.74,382.67 431.05,381.51 431.37,381.27 431.68,382.26 431.99,381.73 432.31,383.38 432.62,381.45 432.93,382.35 433.25,382.89 433.56,382.09 433.87,383.36 434.19,382.24 434.50,381.72" fill="none" stroke="#1f3a66" stroke-width="1.25" stroke-linejoin="round"/>
<polyline points="396.90,381.71 397.21,381.42 397.53,382.06 397.84,381.53 398.15,381.33 398.47,382.07 398.78,383.21 399.09,382.95 399.41,382.87 399.72,381.67 400.03,382.36 400.35,381.79 400.66,381.56 400.97,381.42 401.29,381.65 401.60,383.22 401.91,383.00 402.23,382.95 402.54,382.94 402.85,381.60 403.17,381.86 403.48,382.55 403.79,382.78 404.11,383.05 404.42,383.10 404.73,381.36 405.05,382.50 405.36,382.64 405.67,382.27 405.99,381.55 406.30,382.20 406.61,381.35 406.93,383.20 407.24,383.05 407.55,382.34 407.87,381.80 408.18,383.13 408.49,382.38 408.81,383.06 409.12,382.97 409.43,382.22 409.75,382.00 410.06,382.39 410.37,382.01 410.69,381.40 411.00,381.69 411.31,382.78 411.63,381.06 411.94,381.02 412.25,382.24 412.57,381.41 412.88,381.88 413.19,381.61 413.51,381.15 413.82,382.31 414.13,380.10 414.45,379.80 414.76,377.83 415.07,375.46 415.39,366.88 415.70,358.48 416.01,367.91 416.33,374.77 416.64,378.62 416.95,380.88 417.27,379.89 417.58,380.25 417.89,380.90 418.21,382.26 418.52,382.06 418.83,381.32 419.15,381.59 419.46,381.31 419.77,381.97 420.09,381.09 420.40,382.55 420.71,383.01 421.03,383.16 421.34,382.69 421.65,383.20 421.97,381.14 422.28,381.74 422.59,383.24 422.91,382.83 423.22,382.03 423.53,383.21 423.85,382.50 424.16,382.94 424.47,381.79 424.79,381.57 425.10,382.13 425.41,381.46 425.73,382.00 426.04,383.28 426.35,381.89 426.67,381.19 426.98,381.27 427.29,381.54 427.61,382.90 427.92,381.97 428.23,381.81 428.55,381.39 428.86,383.34 429.17,382.11 429.49,381.64 429.80,381.31 430.11,381.30 430.43,381.55 430.74,382.67 431.05,381.51 431.37,381.27 431.68,382.26 431.99,381.73 432.31,383.38 432.62,381.45 432.93,382.35 433.25,382.89 433.56,382.09 433.87,383.36 434.19,382.24 434.50,381.72" fill="none" stroke="#8fb0d8" stroke-width="0.3" stroke-linejoin="round"/>
<rect x="396.60" y="396.40" width="38.20" height="35.20" fill="url(#eNF)" stroke="none" stroke-width="0.8"/>
<rect x="396.60" y="396.40" width="38.20" height="35.20" fill="#fff" stroke="none" stroke-width="0.8" filter="url(#noise)" opacity="0.45"/>
<g clip-path="url(#clip4)"><path d="M414.26,396.4 L417.14,396.4 L416.74,431.6 L414.66,431.6 Z" fill="#f07a48" opacity="0.6" filter="url(#blur05)"/>
<path d="M414.80,396.4 L416.60,396.4 L416.35,431.6 L415.05,431.6 Z" fill="url(#sNF)" filter="url(#blur05)"/></g>
<rect x="396.60" y="396.40" width="38.20" height="35.20" fill="none" stroke="#2a0a05" stroke-width="0.9"/>
<line x1="396.60" y1="431.60" x2="396.60" y2="434.20" stroke="#222" stroke-width="0.8"/>
<line x1="415.70" y1="431.60" x2="415.70" y2="434.20" stroke="#222" stroke-width="0.8"/>
<line x1="434.80" y1="431.60" x2="434.80" y2="434.20" stroke="#222" stroke-width="0.8"/>
<text transform="translate(391.40,445.85) scale(1,1.12)" font-size="8.3" text-anchor="middle" fill="#1c1c1c" color="#1c1c1c">−10kb</text>
<text transform="translate(415.70,445.85) scale(1,1.12)" font-size="8.3" text-anchor="middle" fill="#1c1c1c" color="#1c1c1c">NFIX</text>
<text transform="translate(437.20,445.85) scale(1,1.12)" font-size="8.3" text-anchor="middle" fill="#1c1c1c" color="#1c1c1c">10kb</text>
<text transform="translate(447.50,393.88) scale(1,1.12)" font-size="8.1" fill="#1c1c1c" color="#1c1c1c">Enrichment</text>
<rect x="447.70" y="395.80" width="2.70" height="35.70" fill="url(#cbE)" stroke="#2a2a2a" stroke-width="0.5"/>
<line x1="450.40" y1="396.70" x2="452.60" y2="396.70" stroke="#1a1a1a" stroke-width="0.75"/>
<line x1="450.40" y1="400.20" x2="452.60" y2="400.20" stroke="#1a1a1a" stroke-width="0.75"/>
<line x1="450.40" y1="404.20" x2="452.60" y2="404.20" stroke="#1a1a1a" stroke-width="0.75"/>
<line x1="450.40" y1="408.30" x2="452.60" y2="408.30" stroke="#1a1a1a" stroke-width="0.75"/>
<line x1="450.40" y1="412.80" x2="452.60" y2="412.80" stroke="#1a1a1a" stroke-width="0.75"/>
<line x1="450.40" y1="417.40" x2="452.60" y2="417.40" stroke="#1a1a1a" stroke-width="0.75"/>
<line x1="450.40" y1="422.10" x2="452.60" y2="422.10" stroke="#1a1a1a" stroke-width="0.75"/>
<line x1="450.40" y1="426.80" x2="452.60" y2="426.80" stroke="#1a1a1a" stroke-width="0.75"/>
<line x1="450.40" y1="431.00" x2="452.60" y2="431.00" stroke="#1a1a1a" stroke-width="0.75"/>
<text transform="translate(456.20,403.05) scale(1,1.12)" font-size="8.3" fill="#1c1c1c" color="#1c1c1c">3.5</text>
<text transform="translate(456.20,434.55) scale(1,1.12)" font-size="8.3" fill="#1c1c1c" color="#1c1c1c">0.0</text>
</svg></body></html>
